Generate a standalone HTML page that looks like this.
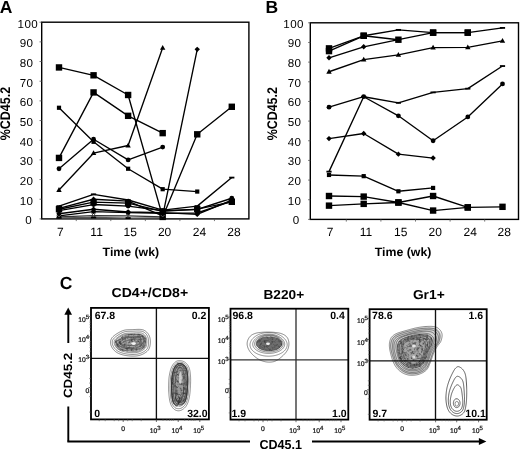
<!DOCTYPE html><html><head><meta charset="utf-8"><style>html,body{margin:0;padding:0;background:#fff;overflow:hidden}svg{display:block;filter:grayscale(1)}</style></head><body><svg width="520" height="449" viewBox="0 0 520 449" text-rendering="geometricPrecision" font-family='"Liberation Sans", sans-serif' fill="#000"><defs><filter id="tex" x="0" y="0" width="1" height="1" color-interpolation-filters="sRGB"><feTurbulence type="fractalNoise" baseFrequency="0.42" numOctaves="2" seed="4" result="n"/><feColorMatrix in="n" type="matrix" values="0 0 0 0 0.25  0 0 0 0 0.25  0 0 0 0 0.25  2.4 0 0 0 -1.0"/></filter></defs><rect width="520" height="449" fill="#fff"/><rect x="41.7" y="22.2" width="207.20" height="196.70" fill="none" stroke="#000" stroke-width="1.4"/><line x1="39.5" y1="218.90" x2="41.7" y2="218.90" stroke="#555" stroke-width="0.8"/><text x="32.05" y="224.30" text-anchor="end" font-size="11.6" letter-spacing="0.4">0</text><line x1="39.5" y1="199.23" x2="41.7" y2="199.23" stroke="#555" stroke-width="0.8"/><text x="33.45" y="204.63" text-anchor="end" font-size="11.6" letter-spacing="0.4">10</text><line x1="39.5" y1="179.56" x2="41.7" y2="179.56" stroke="#555" stroke-width="0.8"/><text x="33.45" y="184.96" text-anchor="end" font-size="11.6" letter-spacing="0.4">20</text><line x1="39.5" y1="159.89" x2="41.7" y2="159.89" stroke="#555" stroke-width="0.8"/><text x="33.45" y="165.29" text-anchor="end" font-size="11.6" letter-spacing="0.4">30</text><line x1="39.5" y1="140.22" x2="41.7" y2="140.22" stroke="#555" stroke-width="0.8"/><text x="33.45" y="145.62" text-anchor="end" font-size="11.6" letter-spacing="0.4">40</text><line x1="39.5" y1="120.55" x2="41.7" y2="120.55" stroke="#555" stroke-width="0.8"/><text x="33.45" y="125.95" text-anchor="end" font-size="11.6" letter-spacing="0.4">50</text><line x1="39.5" y1="100.88" x2="41.7" y2="100.88" stroke="#555" stroke-width="0.8"/><text x="33.45" y="106.28" text-anchor="end" font-size="11.6" letter-spacing="0.4">60</text><line x1="39.5" y1="81.21" x2="41.7" y2="81.21" stroke="#555" stroke-width="0.8"/><text x="33.45" y="86.61" text-anchor="end" font-size="11.6" letter-spacing="0.4">70</text><line x1="39.5" y1="61.54" x2="41.7" y2="61.54" stroke="#555" stroke-width="0.8"/><text x="33.45" y="66.94" text-anchor="end" font-size="11.6" letter-spacing="0.4">80</text><line x1="39.5" y1="41.87" x2="41.7" y2="41.87" stroke="#555" stroke-width="0.8"/><text x="33.45" y="47.27" text-anchor="end" font-size="11.6" letter-spacing="0.4">90</text><line x1="39.5" y1="22.20" x2="41.7" y2="22.20" stroke="#555" stroke-width="0.8"/><text x="38.15" y="27.60" text-anchor="end" font-size="11.6" letter-spacing="0.4">100</text><line x1="76.25" y1="218.9" x2="76.25" y2="221.1" stroke="#555" stroke-width="0.8"/><line x1="110.80" y1="218.9" x2="110.80" y2="221.1" stroke="#555" stroke-width="0.8"/><line x1="145.35" y1="218.9" x2="145.35" y2="221.1" stroke="#555" stroke-width="0.8"/><line x1="179.90" y1="218.9" x2="179.90" y2="221.1" stroke="#555" stroke-width="0.8"/><line x1="214.45" y1="218.9" x2="214.45" y2="221.1" stroke="#555" stroke-width="0.8"/><text x="60.40" y="236.2" text-anchor="middle" font-size="12">7</text><text x="96.60" y="236.2" text-anchor="middle" font-size="12">11</text><text x="130.20" y="236.2" text-anchor="middle" font-size="12">15</text><text x="164.60" y="236.2" text-anchor="middle" font-size="12">20</text><text x="199.50" y="236.2" text-anchor="middle" font-size="12">24</text><text x="233.90" y="236.2" text-anchor="middle" font-size="12">28</text><path d="M59.00 67.44L93.56 75.31L128.12 94.98L162.68 216.93L197.24 134.32L231.80 106.78" fill="none" stroke="#000" stroke-width="1.35" stroke-linejoin="round"/><path d="M59.00 157.92L93.56 92.42L128.12 115.83L162.68 133.14" fill="none" stroke="#000" stroke-width="1.35" stroke-linejoin="round"/><path d="M59.00 107.76L93.56 141.79L128.12 168.74L162.68 189.20L197.24 191.56" fill="none" stroke="#000" stroke-width="1.35" stroke-linejoin="round"/><path d="M59.00 168.74L93.56 139.24L128.12 159.89L162.68 147.10" fill="none" stroke="#000" stroke-width="1.35" stroke-linejoin="round"/><path d="M59.00 189.99L93.56 153.20L128.12 145.53L162.68 47.77" fill="none" stroke="#000" stroke-width="1.35" stroke-linejoin="round"/><path d="M59.00 208.47L93.56 199.23L128.12 201.20L162.68 215.95L197.24 49.34" fill="none" stroke="#000" stroke-width="1.35" stroke-linejoin="round"/><path d="M59.00 206.11L93.56 194.31L128.12 200.02L162.68 210.05L197.24 206.11L231.80 177.59" fill="none" stroke="#000" stroke-width="1.35" stroke-linejoin="round"/><path d="M59.00 209.26L93.56 202.18L128.12 203.16L162.68 211.43L197.24 209.06L231.80 201.79" fill="none" stroke="#000" stroke-width="1.35" stroke-linejoin="round"/><path d="M59.00 210.64L93.56 204.54L128.12 206.11L162.68 210.64L197.24 209.46L231.80 198.25" fill="none" stroke="#000" stroke-width="1.35" stroke-linejoin="round"/><path d="M59.00 213.79L93.56 209.26L128.12 212.02L162.68 212.61L197.24 214.38L231.80 200.02" fill="none" stroke="#000" stroke-width="1.35" stroke-linejoin="round"/><path d="M59.00 215.95L93.56 211.62L128.12 212.61L162.68 213.39L197.24 213.00L231.80 201.20" fill="none" stroke="#000" stroke-width="1.35" stroke-linejoin="round"/><path d="M59.00 216.93L93.56 215.56L128.12 215.95L162.68 216.93" fill="none" stroke="#333" stroke-width="1.35" stroke-linejoin="round"/><path d="M59.00 217.92L93.56 217.52L128.12 218.11L162.68 217.92" fill="none" stroke="#555" stroke-width="1.35" stroke-linejoin="round"/><rect x="55.80" y="64.24" width="6.4" height="6.4"/><rect x="90.36" y="72.11" width="6.4" height="6.4"/><rect x="124.92" y="91.78" width="6.4" height="6.4"/><rect x="159.48" y="213.73" width="6.4" height="6.4"/><rect x="194.04" y="131.12" width="6.4" height="6.4"/><rect x="228.60" y="103.58" width="6.4" height="6.4"/><rect x="55.80" y="154.72" width="6.4" height="6.4"/><rect x="90.36" y="89.22" width="6.4" height="6.4"/><rect x="124.92" y="112.63" width="6.4" height="6.4"/><rect x="159.48" y="129.94" width="6.4" height="6.4"/><rect x="56.90" y="105.66" width="4.2" height="4.2"/><rect x="91.46" y="139.69" width="4.2" height="4.2"/><rect x="126.02" y="166.64" width="4.2" height="4.2"/><rect x="160.58" y="187.10" width="4.2" height="4.2"/><rect x="195.14" y="189.46" width="4.2" height="4.2"/><circle cx="59.00" cy="168.74" r="2.4"/><circle cx="93.56" cy="139.24" r="2.4"/><circle cx="128.12" cy="159.89" r="2.4"/><circle cx="162.68" cy="147.10" r="2.4"/><path d="M59.00 187.11L61.70 191.91L56.30 191.91Z"/><path d="M93.56 150.32L96.26 155.12L90.86 155.12Z"/><path d="M128.12 142.65L130.82 147.45L125.42 147.45Z"/><path d="M162.68 44.89L165.38 49.69L159.98 49.69Z"/><path d="M59.00 205.77L61.70 208.47L59.00 211.17L56.30 208.47Z"/><path d="M93.56 196.53L96.26 199.23L93.56 201.93L90.86 199.23Z"/><path d="M128.12 198.50L130.82 201.20L128.12 203.90L125.42 201.20Z"/><path d="M162.68 213.25L165.38 215.95L162.68 218.65L159.98 215.95Z"/><path d="M197.24 46.64L199.94 49.34L197.24 52.04L194.54 49.34Z"/><rect x="56.40" y="205.21" width="5.2" height="1.8"/><rect x="90.96" y="193.41" width="5.2" height="1.8"/><rect x="125.52" y="199.12" width="5.2" height="1.8"/><rect x="160.08" y="209.15" width="5.2" height="1.8"/><rect x="194.64" y="205.21" width="5.2" height="1.8"/><rect x="229.20" y="176.69" width="5.2" height="1.8"/><rect x="55.80" y="206.06" width="6.4" height="6.4"/><rect x="90.36" y="198.98" width="6.4" height="6.4"/><rect x="124.92" y="199.96" width="6.4" height="6.4"/><rect x="159.48" y="208.23" width="6.4" height="6.4"/><rect x="194.04" y="205.87" width="6.4" height="6.4"/><rect x="228.60" y="198.59" width="6.4" height="6.4"/><circle cx="59.00" cy="210.64" r="2.4"/><circle cx="93.56" cy="204.54" r="2.4"/><circle cx="128.12" cy="206.11" r="2.4"/><circle cx="162.68" cy="210.64" r="2.4"/><circle cx="197.24" cy="209.46" r="2.4"/><circle cx="231.80" cy="198.25" r="2.4"/><path d="M59.00 211.09L61.70 213.79L59.00 216.49L56.30 213.79Z"/><path d="M93.56 206.56L96.26 209.26L93.56 211.96L90.86 209.26Z"/><path d="M128.12 209.32L130.82 212.02L128.12 214.72L125.42 212.02Z"/><path d="M162.68 209.91L165.38 212.61L162.68 215.31L159.98 212.61Z"/><path d="M197.24 211.68L199.94 214.38L197.24 217.08L194.54 214.38Z"/><path d="M231.80 197.32L234.50 200.02L231.80 202.72L229.10 200.02Z"/><circle cx="59.00" cy="215.95" r="2.4"/><circle cx="93.56" cy="211.62" r="2.4"/><circle cx="128.12" cy="212.61" r="2.4"/><circle cx="162.68" cy="213.39" r="2.4"/><circle cx="197.24" cy="213.00" r="2.4"/><circle cx="231.80" cy="201.20" r="2.4"/><path d="M57.00 214.93L61.00 218.93M61.00 214.93L57.00 218.93" stroke="#555" stroke-width="1" fill="none"/><path d="M91.56 213.56L95.56 217.56M95.56 213.56L91.56 217.56" stroke="#555" stroke-width="1" fill="none"/><path d="M126.12 213.95L130.12 217.95M130.12 213.95L126.12 217.95" stroke="#555" stroke-width="1" fill="none"/><path d="M160.68 214.93L164.68 218.93M164.68 214.93L160.68 218.93" stroke="#555" stroke-width="1" fill="none"/><rect x="56.40" y="217.02" width="5.2" height="1.8"/><rect x="90.96" y="216.62" width="5.2" height="1.8"/><rect x="125.52" y="217.21" width="5.2" height="1.8"/><rect x="160.08" y="217.02" width="5.2" height="1.8"/><text x="-0.3" y="12.6" font-size="17.5" font-weight="bold">A</text><text transform="translate(10.2 113.6) rotate(-90)" text-anchor="middle" font-size="14" font-weight="bold" textLength="53.5" lengthAdjust="spacingAndGlyphs">%CD45.2</text><text x="102.6" y="255.8" font-size="12" font-weight="bold" textLength="56.5" lengthAdjust="spacingAndGlyphs">Time (wk)</text><rect x="310.3" y="22.8" width="208.20" height="196.60" fill="none" stroke="#000" stroke-width="1.4"/><line x1="308.1" y1="219.40" x2="310.3" y2="219.40" stroke="#555" stroke-width="0.8"/><text x="299.65" y="224.30" text-anchor="end" font-size="11.6" letter-spacing="0.4">0</text><line x1="308.1" y1="199.74" x2="310.3" y2="199.74" stroke="#555" stroke-width="0.8"/><text x="301.45" y="204.64" text-anchor="end" font-size="11.6" letter-spacing="0.4">10</text><line x1="308.1" y1="180.08" x2="310.3" y2="180.08" stroke="#555" stroke-width="0.8"/><text x="301.45" y="184.98" text-anchor="end" font-size="11.6" letter-spacing="0.4">20</text><line x1="308.1" y1="160.42" x2="310.3" y2="160.42" stroke="#555" stroke-width="0.8"/><text x="301.45" y="165.32" text-anchor="end" font-size="11.6" letter-spacing="0.4">30</text><line x1="308.1" y1="140.76" x2="310.3" y2="140.76" stroke="#555" stroke-width="0.8"/><text x="301.45" y="145.66" text-anchor="end" font-size="11.6" letter-spacing="0.4">40</text><line x1="308.1" y1="121.10" x2="310.3" y2="121.10" stroke="#555" stroke-width="0.8"/><text x="301.45" y="126.00" text-anchor="end" font-size="11.6" letter-spacing="0.4">50</text><line x1="308.1" y1="101.44" x2="310.3" y2="101.44" stroke="#555" stroke-width="0.8"/><text x="301.45" y="106.34" text-anchor="end" font-size="11.6" letter-spacing="0.4">60</text><line x1="308.1" y1="81.78" x2="310.3" y2="81.78" stroke="#555" stroke-width="0.8"/><text x="301.45" y="86.68" text-anchor="end" font-size="11.6" letter-spacing="0.4">70</text><line x1="308.1" y1="62.12" x2="310.3" y2="62.12" stroke="#555" stroke-width="0.8"/><text x="301.45" y="67.02" text-anchor="end" font-size="11.6" letter-spacing="0.4">80</text><line x1="308.1" y1="42.46" x2="310.3" y2="42.46" stroke="#555" stroke-width="0.8"/><text x="301.45" y="47.36" text-anchor="end" font-size="11.6" letter-spacing="0.4">90</text><line x1="308.1" y1="22.80" x2="310.3" y2="22.80" stroke="#555" stroke-width="0.8"/><text x="303.85" y="27.70" text-anchor="end" font-size="11.6" letter-spacing="0.4">100</text><line x1="346.30" y1="219.4" x2="346.30" y2="221.6" stroke="#555" stroke-width="0.8"/><line x1="380.90" y1="219.4" x2="380.90" y2="221.6" stroke="#555" stroke-width="0.8"/><line x1="415.50" y1="219.4" x2="415.50" y2="221.6" stroke="#555" stroke-width="0.8"/><line x1="450.10" y1="219.4" x2="450.10" y2="221.6" stroke="#555" stroke-width="0.8"/><line x1="484.70" y1="219.4" x2="484.70" y2="221.6" stroke="#555" stroke-width="0.8"/><text x="330.20" y="236.2" text-anchor="middle" font-size="12">7</text><text x="366.00" y="236.2" text-anchor="middle" font-size="12">11</text><text x="400.80" y="236.2" text-anchor="middle" font-size="12">15</text><text x="435.30" y="236.2" text-anchor="middle" font-size="12">20</text><text x="470.30" y="236.2" text-anchor="middle" font-size="12">24</text><text x="504.30" y="236.2" text-anchor="middle" font-size="12">28</text><path d="M329.00 48.36L363.70 35.78L398.40 29.88L433.10 32.63L467.80 32.63L502.50 27.91" fill="none" stroke="#000" stroke-width="1.35" stroke-linejoin="round"/><path d="M329.00 51.11L363.70 35.78L398.40 39.71L433.10 32.63L467.80 32.63" fill="none" stroke="#000" stroke-width="1.35" stroke-linejoin="round"/><path d="M329.00 57.79L363.70 46.79L398.40 39.71" fill="none" stroke="#000" stroke-width="1.35" stroke-linejoin="round"/><path d="M329.00 71.75L363.70 59.56L398.40 54.85L433.10 47.57L467.80 47.38L502.50 40.89" fill="none" stroke="#000" stroke-width="1.35" stroke-linejoin="round"/><path d="M329.00 171.63L363.70 96.72L398.40 102.82L433.10 92.40L467.80 88.66L502.50 66.05" fill="none" stroke="#000" stroke-width="1.35" stroke-linejoin="round"/><path d="M329.00 107.14L363.70 96.72L398.40 115.79L433.10 140.76L467.80 116.97L502.50 83.94" fill="none" stroke="#000" stroke-width="1.35" stroke-linejoin="round"/><path d="M329.00 138.60L363.70 133.49L398.40 154.13L433.10 158.06" fill="none" stroke="#000" stroke-width="1.35" stroke-linejoin="round"/><path d="M329.00 174.97L363.70 176.15L398.40 191.29L433.10 187.94" fill="none" stroke="#000" stroke-width="1.35" stroke-linejoin="round"/><path d="M329.00 196.00L363.70 196.59L398.40 202.49L433.10 196.00L467.80 207.41L502.50 206.82" fill="none" stroke="#000" stroke-width="1.35" stroke-linejoin="round"/><path d="M329.00 205.64L363.70 203.87L398.40 202.49L433.10 210.55L467.80 207.41" fill="none" stroke="#000" stroke-width="1.35" stroke-linejoin="round"/><rect x="325.80" y="45.16" width="6.4" height="6.4"/><rect x="360.50" y="32.58" width="6.4" height="6.4"/><rect x="395.80" y="28.98" width="5.2" height="1.8"/><rect x="429.90" y="29.43" width="6.4" height="6.4"/><rect x="464.60" y="29.43" width="6.4" height="6.4"/><rect x="499.90" y="27.01" width="5.2" height="1.8"/><rect x="325.80" y="47.91" width="6.4" height="6.4"/><rect x="360.50" y="32.58" width="6.4" height="6.4"/><rect x="395.20" y="36.51" width="6.4" height="6.4"/><rect x="429.90" y="29.43" width="6.4" height="6.4"/><rect x="464.60" y="29.43" width="6.4" height="6.4"/><path d="M329.00 55.09L331.70 57.79L329.00 60.49L326.30 57.79Z"/><path d="M363.70 44.09L366.40 46.79L363.70 49.49L361.00 46.79Z"/><path d="M398.40 37.01L401.10 39.71L398.40 42.41L395.70 39.71Z"/><path d="M329.00 68.87L331.70 73.67L326.30 73.67Z"/><path d="M363.70 56.68L366.40 61.48L361.00 61.48Z"/><path d="M398.40 51.97L401.10 56.77L395.70 56.77Z"/><path d="M433.10 44.69L435.80 49.49L430.40 49.49Z"/><path d="M467.80 44.49L470.50 49.30L465.10 49.30Z"/><path d="M502.50 38.01L505.20 42.81L499.80 42.81Z"/><rect x="326.40" y="170.73" width="5.2" height="1.8"/><rect x="361.10" y="95.82" width="5.2" height="1.8"/><rect x="395.80" y="101.92" width="5.2" height="1.8"/><rect x="430.50" y="91.50" width="5.2" height="1.8"/><rect x="465.20" y="87.76" width="5.2" height="1.8"/><rect x="499.90" y="65.15" width="5.2" height="1.8"/><circle cx="329.00" cy="107.14" r="2.4"/><circle cx="363.70" cy="96.72" r="2.4"/><circle cx="398.40" cy="115.79" r="2.4"/><circle cx="433.10" cy="140.76" r="2.4"/><circle cx="467.80" cy="116.97" r="2.4"/><circle cx="502.50" cy="83.94" r="2.4"/><path d="M329.00 135.90L331.70 138.60L329.00 141.30L326.30 138.60Z"/><path d="M363.70 130.79L366.40 133.49L363.70 136.19L361.00 133.49Z"/><path d="M398.40 151.43L401.10 154.13L398.40 156.83L395.70 154.13Z"/><path d="M433.10 155.36L435.80 158.06L433.10 160.76L430.40 158.06Z"/><rect x="326.90" y="172.87" width="4.2" height="4.2"/><rect x="361.60" y="174.05" width="4.2" height="4.2"/><rect x="396.30" y="189.19" width="4.2" height="4.2"/><rect x="431.00" y="185.84" width="4.2" height="4.2"/><rect x="325.80" y="192.80" width="6.4" height="6.4"/><rect x="360.50" y="193.39" width="6.4" height="6.4"/><rect x="395.20" y="199.29" width="6.4" height="6.4"/><rect x="429.90" y="192.80" width="6.4" height="6.4"/><rect x="464.60" y="204.21" width="6.4" height="6.4"/><rect x="499.30" y="203.62" width="6.4" height="6.4"/><rect x="325.80" y="202.44" width="6.4" height="6.4"/><rect x="360.50" y="200.67" width="6.4" height="6.4"/><rect x="395.20" y="199.29" width="6.4" height="6.4"/><rect x="429.90" y="207.35" width="6.4" height="6.4"/><rect x="464.60" y="204.21" width="6.4" height="6.4"/><text x="265.6" y="12.6" font-size="17.5" font-weight="bold">B</text><text transform="translate(277.2 113.7) rotate(-90)" text-anchor="middle" font-size="14" font-weight="bold" textLength="53.1" lengthAdjust="spacingAndGlyphs">%CD45.2</text><text x="374.8" y="255.8" font-size="12" font-weight="bold" textLength="56.6" lengthAdjust="spacingAndGlyphs">Time (wk)</text><text x="59.7" y="289.2" font-size="17.5" font-weight="bold">C</text><text x="111.5" y="296.9" font-size="13" font-weight="bold" textLength="76.6" lengthAdjust="spacingAndGlyphs">CD4+/CD8+</text><text x="263.5" y="298.5" font-size="13" font-weight="bold" textLength="40.6" lengthAdjust="spacingAndGlyphs">B220+</text><text x="412.9" y="298.6" font-size="13" font-weight="bold" textLength="31.8" lengthAdjust="spacingAndGlyphs">Gr1+</text><path d="M124.44 335.32L124.90 335.10L125.33 334.89L125.78 334.71L126.25 334.54L126.74 334.39L127.26 334.26L127.81 334.15L128.39 334.06L129.01 333.99L129.66 333.93L130.35 333.88L131.07 333.85L131.82 333.82L132.60 333.79L133.40 333.76L134.20 333.73L135.00 333.71L135.81 333.69L136.60 333.69L137.37 333.70L138.12 333.72L138.83 333.75L139.50 333.80L140.11 333.86L140.65 333.93L141.11 334.01L141.47 334.09L141.75 334.18L142.03 334.27L142.31 334.38L142.60 334.50L142.88 334.64L143.16 334.80L143.45 334.97L143.73 335.17L144.01 335.38L144.29 335.62L144.56 335.89L144.81 336.17L145.06 336.47L145.29 336.79L145.49 337.10L145.64 337.38L145.78 337.70L145.90 338.06L146.01 338.47L146.10 338.90L146.17 339.37L146.22 339.85L146.25 340.35L146.26 340.85L146.25 341.34L146.22 341.83L146.18 342.30L146.13 342.76L146.07 343.20L145.99 343.67L145.92 344.14L145.83 344.58L145.75 345.01L145.65 345.41L145.55 345.77L145.45 346.12L145.33 346.43L145.21 346.71L145.07 346.96L144.93 347.19L144.77 347.39L144.60 347.58L144.39 347.77L144.10 347.99L143.75 348.24L143.34 348.50L142.88 348.76L142.39 349.01L141.86 349.25L141.31 349.48L140.74 349.69L140.15 349.88L139.56 350.06L138.96 350.21L138.37 350.34L137.79 350.46L137.24 350.55L136.67 350.63L136.04 350.70L135.34 350.77L134.59 350.83L133.80 350.89L132.98 350.94L132.14 350.99L131.28 351.03L130.42 351.07L129.57 351.10L128.72 351.12L127.90 351.13L127.11 351.14L126.36 351.14L125.63 351.12L124.91 351.09L124.20 351.03L123.51 350.96L122.83 350.86L122.17 350.73L121.54 350.58L120.93 350.41L120.36 350.21L119.81 349.99L119.31 349.75L118.84 349.49L118.42 349.22L118.04 348.93L117.69 348.63L117.35 348.29L117.01 347.92L116.69 347.52L116.39 347.11L116.10 346.68L115.83 346.24L115.59 345.81L115.38 345.38L115.20 344.96L115.04 344.57L114.93 344.21L114.85 343.89L114.80 343.59L114.76 343.29L114.74 342.97L114.74 342.67L114.76 342.39L114.81 342.13L114.87 341.89L114.95 341.67L115.05 341.46L115.17 341.27L115.30 341.09L115.46 340.91L115.64 340.73L115.85 340.55L116.08 340.37L116.37 340.15L116.76 339.87L117.24 339.53L117.80 339.16L118.42 338.76L119.09 338.34L119.79 337.92L120.51 337.49L121.23 337.07L121.94 336.67L122.64 336.28L123.30 335.93L123.91 335.60Z" fill="#a2a2a2"/><clipPath id="c1"><path d="M124.44 335.32L124.90 335.10L125.33 334.89L125.78 334.71L126.25 334.54L126.74 334.39L127.26 334.26L127.81 334.15L128.39 334.06L129.01 333.99L129.66 333.93L130.35 333.88L131.07 333.85L131.82 333.82L132.60 333.79L133.40 333.76L134.20 333.73L135.00 333.71L135.81 333.69L136.60 333.69L137.37 333.70L138.12 333.72L138.83 333.75L139.50 333.80L140.11 333.86L140.65 333.93L141.11 334.01L141.47 334.09L141.75 334.18L142.03 334.27L142.31 334.38L142.60 334.50L142.88 334.64L143.16 334.80L143.45 334.97L143.73 335.17L144.01 335.38L144.29 335.62L144.56 335.89L144.81 336.17L145.06 336.47L145.29 336.79L145.49 337.10L145.64 337.38L145.78 337.70L145.90 338.06L146.01 338.47L146.10 338.90L146.17 339.37L146.22 339.85L146.25 340.35L146.26 340.85L146.25 341.34L146.22 341.83L146.18 342.30L146.13 342.76L146.07 343.20L145.99 343.67L145.92 344.14L145.83 344.58L145.75 345.01L145.65 345.41L145.55 345.77L145.45 346.12L145.33 346.43L145.21 346.71L145.07 346.96L144.93 347.19L144.77 347.39L144.60 347.58L144.39 347.77L144.10 347.99L143.75 348.24L143.34 348.50L142.88 348.76L142.39 349.01L141.86 349.25L141.31 349.48L140.74 349.69L140.15 349.88L139.56 350.06L138.96 350.21L138.37 350.34L137.79 350.46L137.24 350.55L136.67 350.63L136.04 350.70L135.34 350.77L134.59 350.83L133.80 350.89L132.98 350.94L132.14 350.99L131.28 351.03L130.42 351.07L129.57 351.10L128.72 351.12L127.90 351.13L127.11 351.14L126.36 351.14L125.63 351.12L124.91 351.09L124.20 351.03L123.51 350.96L122.83 350.86L122.17 350.73L121.54 350.58L120.93 350.41L120.36 350.21L119.81 349.99L119.31 349.75L118.84 349.49L118.42 349.22L118.04 348.93L117.69 348.63L117.35 348.29L117.01 347.92L116.69 347.52L116.39 347.11L116.10 346.68L115.83 346.24L115.59 345.81L115.38 345.38L115.20 344.96L115.04 344.57L114.93 344.21L114.85 343.89L114.80 343.59L114.76 343.29L114.74 342.97L114.74 342.67L114.76 342.39L114.81 342.13L114.87 341.89L114.95 341.67L115.05 341.46L115.17 341.27L115.30 341.09L115.46 340.91L115.64 340.73L115.85 340.55L116.08 340.37L116.37 340.15L116.76 339.87L117.24 339.53L117.80 339.16L118.42 338.76L119.09 338.34L119.79 337.92L120.51 337.49L121.23 337.07L121.94 336.67L122.64 336.28L123.30 335.93L123.91 335.60Z"/></clipPath><rect x="114.7" y="333.7" width="31.5" height="17.4" filter="url(#tex)" clip-path="url(#c1)"/><path d="M122.70 330.71L123.41 330.46L124.11 330.25L124.80 330.09L125.49 329.96L126.18 329.86L126.86 329.79L127.54 329.74L128.23 329.71L128.92 329.69L129.61 329.68L130.31 329.67L131.01 329.67L131.72 329.65L132.45 329.63L133.20 329.60L133.97 329.56L134.77 329.51L135.59 329.47L136.41 329.43L137.23 329.40L138.06 329.38L138.87 329.37L139.66 329.39L140.44 329.43L141.18 329.50L141.89 329.61L142.56 329.74L143.18 329.93L143.75 330.14L144.31 330.40L144.83 330.69L145.34 331.00L145.81 331.35L146.26 331.71L146.69 332.11L147.09 332.52L147.47 332.95L147.83 333.39L148.16 333.85L148.47 334.32L148.76 334.80L149.03 335.29L149.27 335.79L149.48 336.33L149.67 336.89L149.84 337.47L149.98 338.07L150.10 338.69L150.19 339.31L150.27 339.94L150.32 340.57L150.36 341.19L150.37 341.81L150.36 342.42L150.34 343.01L150.29 343.58L150.24 344.13L150.17 344.69L150.09 345.25L149.99 345.81L149.88 346.36L149.75 346.91L149.59 347.45L149.40 347.98L149.18 348.50L148.94 349.01L148.65 349.51L148.33 349.98L147.97 350.45L147.56 350.89L147.11 351.32L146.61 351.75L146.07 352.17L145.49 352.58L144.88 352.98L144.23 353.37L143.55 353.75L142.85 354.10L142.13 354.43L141.39 354.74L140.63 355.02L139.86 355.27L139.08 355.48L138.30 355.67L137.49 355.81L136.64 355.93L135.76 356.01L134.84 356.07L133.91 356.10L132.95 356.11L131.99 356.09L131.03 356.05L130.08 356.00L129.13 355.92L128.21 355.83L127.31 355.72L126.45 355.60L125.62 355.47L124.83 355.33L124.04 355.17L123.26 354.99L122.49 354.80L121.74 354.59L121.00 354.36L120.27 354.11L119.57 353.85L118.89 353.56L118.23 353.26L117.60 352.94L117.00 352.60L116.42 352.24L115.88 351.86L115.35 351.45L114.85 351.01L114.36 350.54L113.89 350.04L113.44 349.52L113.02 348.99L112.63 348.44L112.26 347.88L111.93 347.31L111.63 346.75L111.36 346.18L111.14 345.63L110.95 345.08L110.81 344.55L110.70 344.03L110.61 343.50L110.56 342.97L110.54 342.44L110.55 341.91L110.59 341.38L110.68 340.84L110.80 340.32L110.96 339.79L111.17 339.27L111.42 338.75L111.72 338.24L112.06 337.74L112.46 337.24L112.93 336.73L113.48 336.22L114.10 335.69L114.78 335.16L115.51 334.62L116.28 334.10L117.08 333.58L117.90 333.08L118.73 332.60L119.56 332.15L120.38 331.73L121.19 331.34L121.96 331.00Z" fill="none" stroke="#3a3a3a" stroke-width="0.6"/><path d="M123.29 332.27L123.92 332.04L124.53 331.84L125.14 331.69L125.76 331.56L126.38 331.46L127.00 331.38L127.64 331.33L128.29 331.29L128.95 331.27L129.63 331.26L130.32 331.25L131.03 331.25L131.76 331.24L132.51 331.22L133.28 331.19L134.06 331.15L134.86 331.12L135.67 331.08L136.48 331.04L137.29 331.02L138.08 331.01L138.85 331.01L139.60 331.03L140.32 331.07L140.99 331.14L141.60 331.24L142.16 331.36L142.65 331.51L143.11 331.69L143.56 331.90L143.98 332.14L144.39 332.40L144.78 332.69L145.15 333.00L145.50 333.34L145.83 333.69L146.15 334.06L146.44 334.45L146.72 334.85L146.98 335.26L147.22 335.69L147.44 336.10L147.62 336.51L147.79 336.95L147.94 337.43L148.08 337.93L148.20 338.45L148.30 339.00L148.38 339.56L148.45 340.12L148.50 340.69L148.54 341.26L148.56 341.82L148.56 342.37L148.55 342.90L148.52 343.42L148.48 343.94L148.43 344.47L148.37 344.98L148.30 345.49L148.21 345.98L148.11 346.47L147.98 346.93L147.84 347.38L147.67 347.82L147.47 348.24L147.25 348.64L147.00 349.02L146.72 349.38L146.39 349.74L146.01 350.10L145.57 350.48L145.09 350.85L144.56 351.22L144.00 351.59L143.40 351.94L142.78 352.27L142.13 352.60L141.46 352.90L140.77 353.17L140.08 353.43L139.37 353.65L138.66 353.85L137.96 354.01L137.23 354.15L136.45 354.25L135.62 354.34L134.76 354.39L133.87 354.43L132.96 354.44L132.04 354.42L131.11 354.39L130.19 354.34L129.28 354.27L128.39 354.18L127.52 354.08L126.69 353.97L125.90 353.84L125.14 353.70L124.38 353.55L123.64 353.38L122.92 353.19L122.20 352.99L121.51 352.77L120.84 352.53L120.19 352.28L119.57 352.02L118.97 351.74L118.40 351.44L117.86 351.14L117.36 350.82L116.89 350.49L116.44 350.13L116.01 349.75L115.58 349.34L115.16 348.90L114.77 348.44L114.39 347.96L114.04 347.47L113.71 346.98L113.42 346.48L113.15 345.98L112.93 345.50L112.73 345.03L112.58 344.58L112.47 344.15L112.38 343.72L112.32 343.28L112.28 342.85L112.27 342.42L112.29 342.00L112.33 341.58L112.40 341.18L112.50 340.78L112.64 340.38L112.80 339.99L113.00 339.60L113.23 339.20L113.51 338.81L113.83 338.42L114.21 338.01L114.69 337.56L115.24 337.09L115.86 336.59L116.54 336.09L117.26 335.59L118.02 335.09L118.80 334.60L119.58 334.13L120.37 333.69L121.15 333.27L121.90 332.90L122.62 332.56Z" fill="none" stroke="#3a3a3a" stroke-width="0.6"/><path d="M123.91 333.92L124.46 333.73L124.99 333.58L125.52 333.46L126.05 333.37L126.60 333.29L127.17 333.24L127.75 333.20L128.36 333.17L128.99 333.16L129.65 333.15L130.34 333.15L131.06 333.14L131.81 333.12L132.58 333.10L133.37 333.06L134.16 333.02L134.96 332.97L135.76 332.92L136.56 332.88L137.34 332.85L138.10 332.83L138.84 332.83L139.53 332.84L140.18 332.88L140.77 332.94L141.29 333.01L141.72 333.11L142.07 333.22L142.41 333.35L142.75 333.51L143.07 333.69L143.38 333.90L143.68 334.12L143.97 334.37L144.25 334.63L144.52 334.91L144.78 335.21L145.03 335.53L145.26 335.86L145.49 336.20L145.70 336.55L145.89 336.89L146.04 337.21L146.18 337.55L146.32 337.93L146.44 338.35L146.55 338.81L146.64 339.29L146.72 339.78L146.79 340.29L146.83 340.81L146.86 341.32L146.87 341.83L146.86 342.32L146.83 342.80L146.79 343.26L146.74 343.75L146.67 344.24L146.60 344.70L146.51 345.15L146.41 345.58L146.31 345.98L146.19 346.35L146.05 346.70L145.91 347.03L145.76 347.33L145.60 347.61L145.42 347.87L145.22 348.11L144.99 348.36L144.70 348.65L144.34 348.96L143.93 349.29L143.47 349.63L142.98 349.96L142.46 350.29L141.90 350.61L141.32 350.92L140.73 351.21L140.11 351.48L139.49 351.72L138.86 351.94L138.22 352.14L137.60 352.29L136.96 352.42L136.25 352.53L135.49 352.61L134.68 352.67L133.84 352.70L132.97 352.71L132.09 352.70L131.20 352.67L130.31 352.61L129.44 352.54L128.58 352.45L127.75 352.35L126.95 352.23L126.19 352.11L125.47 351.98L124.75 351.83L124.05 351.66L123.37 351.49L122.70 351.30L122.06 351.09L121.43 350.88L120.84 350.65L120.27 350.41L119.73 350.16L119.23 349.90L118.76 349.63L118.33 349.35L117.94 349.07L117.57 348.78L117.20 348.45L116.84 348.09L116.49 347.70L116.16 347.29L115.84 346.87L115.54 346.44L115.27 346.00L115.03 345.57L114.82 345.15L114.65 344.74L114.50 344.36L114.40 344.02L114.32 343.71L114.26 343.38L114.22 343.04L114.19 342.71L114.18 342.40L114.18 342.10L114.20 341.81L114.24 341.53L114.30 341.26L114.37 340.99L114.47 340.72L114.59 340.44L114.74 340.16L114.92 339.86L115.15 339.56L115.44 339.23L115.83 338.84L116.32 338.40L116.88 337.94L117.51 337.47L118.19 336.99L118.91 336.51L119.65 336.05L120.41 335.61L121.17 335.19L121.91 334.81L122.63 334.47L123.30 334.17Z" fill="none" stroke="#3a3a3a" stroke-width="0.6"/><path d="M124.27 334.86L124.77 334.72L125.26 334.61L125.74 334.52L126.23 334.45L126.74 334.40L127.27 334.36L127.82 334.34L128.40 334.33L129.02 334.33L129.67 334.34L130.35 334.35L131.07 334.37L131.84 334.38L132.63 334.39L133.43 334.39L134.24 334.39L135.04 334.39L135.84 334.40L136.63 334.42L137.39 334.45L138.13 334.50L138.82 334.56L139.47 334.65L140.05 334.74L140.54 334.85L140.94 334.97L141.23 335.08L141.42 335.18L141.60 335.29L141.80 335.41L142.00 335.53L142.19 335.66L142.40 335.79L142.61 335.94L142.83 336.10L143.06 336.27L143.29 336.46L143.53 336.67L143.77 336.89L144.00 337.14L144.23 337.40L144.44 337.64L144.60 337.84L144.76 338.08L144.91 338.37L145.05 338.72L145.17 339.10L145.27 339.52L145.35 339.97L145.41 340.43L145.44 340.90L145.45 341.37L145.43 341.83L145.39 342.28L145.34 342.71L145.27 343.13L145.18 343.58L145.09 344.03L144.99 344.45L144.90 344.85L144.80 345.21L144.70 345.54L144.60 345.84L144.51 346.11L144.42 346.36L144.34 346.57L144.26 346.78L144.18 346.97L144.09 347.15L143.97 347.36L143.78 347.63L143.50 347.95L143.17 348.28L142.79 348.63L142.37 348.98L141.90 349.32L141.40 349.66L140.87 349.97L140.32 350.26L139.74 350.53L139.16 350.77L138.56 350.97L137.97 351.14L137.39 351.27L136.79 351.37L136.12 351.44L135.40 351.49L134.62 351.51L133.81 351.51L132.98 351.49L132.13 351.45L131.27 351.38L130.41 351.31L129.56 351.22L128.72 351.11L127.92 351.00L127.15 350.88L126.42 350.75L125.73 350.61L125.05 350.46L124.38 350.30L123.73 350.12L123.10 349.93L122.50 349.72L121.93 349.50L121.39 349.26L120.88 349.01L120.42 348.74L119.99 348.46L119.61 348.18L119.29 347.90L119.01 347.62L118.76 347.33L118.52 347.01L118.28 346.66L118.05 346.30L117.82 345.92L117.61 345.54L117.42 345.16L117.24 344.78L117.07 344.43L116.93 344.09L116.81 343.80L116.70 343.54L116.62 343.34L116.54 343.18L116.45 342.98L116.35 342.76L116.26 342.56L116.16 342.38L116.07 342.20L115.98 342.03L115.89 341.85L115.82 341.67L115.76 341.48L115.72 341.27L115.71 341.04L115.73 340.79L115.81 340.52L115.93 340.23L116.12 339.91L116.45 339.52L116.88 339.09L117.40 338.63L118.00 338.16L118.66 337.69L119.36 337.23L120.09 336.79L120.84 336.38L121.59 335.99L122.32 335.64L123.02 335.33L123.68 335.07Z" fill="none" stroke="#3a3a3a" stroke-width="0.6"/><path d="M125.16 337.23L125.55 337.13L125.90 337.05L126.26 336.98L126.64 336.92L127.04 336.88L127.48 336.83L127.97 336.80L128.49 336.78L129.07 336.76L129.70 336.76L130.38 336.75L131.11 336.75L131.89 336.74L132.71 336.73L133.54 336.70L134.36 336.66L135.17 336.62L135.96 336.58L136.72 336.55L137.46 336.52L138.16 336.49L138.81 336.47L139.40 336.47L139.92 336.46L140.35 336.47L140.68 336.47L140.89 336.46L141.00 336.43L141.13 336.41L141.29 336.41L141.47 336.42L141.66 336.45L141.85 336.50L142.06 336.57L142.27 336.67L142.49 336.80L142.70 336.96L142.91 337.14L143.11 337.35L143.30 337.58L143.47 337.84L143.60 338.06L143.68 338.25L143.74 338.45L143.80 338.71L143.86 339.03L143.89 339.38L143.92 339.76L143.93 340.16L143.92 340.58L143.91 341.01L143.88 341.43L143.84 341.84L143.80 342.24L143.75 342.61L143.70 342.99L143.64 343.41L143.59 343.83L143.54 344.22L143.49 344.58L143.45 344.91L143.41 345.19L143.37 345.45L143.34 345.67L143.31 345.86L143.28 346.02L143.26 346.15L143.23 346.27L143.19 346.38L143.11 346.51L142.93 346.70L142.68 346.94L142.36 347.19L141.98 347.44L141.56 347.70L141.11 347.94L140.62 348.17L140.10 348.37L139.57 348.56L139.03 348.72L138.49 348.86L137.96 348.96L137.43 349.05L136.94 349.10L136.43 349.13L135.86 349.15L135.21 349.17L134.51 349.17L133.77 349.15L132.99 349.13L132.19 349.09L131.38 349.04L130.57 348.98L129.76 348.91L128.97 348.83L128.21 348.75L127.48 348.65L126.80 348.55L126.15 348.44L125.51 348.31L124.89 348.17L124.29 348.03L123.71 347.86L123.16 347.69L122.64 347.51L122.16 347.32L121.70 347.12L121.29 346.92L120.92 346.73L120.59 346.54L120.30 346.36L120.06 346.20L119.83 346.03L119.59 345.85L119.32 345.63L119.05 345.40L118.77 345.15L118.49 344.88L118.21 344.61L117.94 344.35L117.68 344.08L117.45 343.84L117.23 343.61L117.04 343.41L116.88 343.26L116.74 343.13L116.61 342.95L116.48 342.75L116.38 342.55L116.30 342.37L116.24 342.21L116.21 342.05L116.20 341.91L116.21 341.78L116.25 341.65L116.31 341.53L116.41 341.42L116.53 341.30L116.69 341.17L116.87 341.05L117.13 340.91L117.49 340.69L117.96 340.41L118.52 340.10L119.14 339.77L119.81 339.43L120.52 339.09L121.25 338.75L121.99 338.43L122.71 338.12L123.41 337.84L124.07 337.59L124.66 337.38Z" fill="none" stroke="#3a3a3a" stroke-width="0.6"/><path d="M125.51 338.17L125.82 337.99L126.11 337.85L126.42 337.73L126.76 337.64L127.13 337.56L127.54 337.50L128.01 337.46L128.52 337.44L129.08 337.44L129.70 337.44L130.38 337.45L131.12 337.46L131.91 337.47L132.74 337.47L133.58 337.46L134.40 337.43L135.21 337.41L136.00 337.39L136.76 337.37L137.48 337.36L138.17 337.36L138.80 337.38L139.36 337.42L139.84 337.47L140.22 337.53L140.48 337.60L140.59 337.67L140.57 337.71L140.56 337.77L140.58 337.84L140.59 337.93L140.60 338.02L140.61 338.13L140.62 338.24L140.63 338.37L140.64 338.52L140.66 338.67L140.68 338.84L140.71 339.01L140.74 339.19L140.77 339.38L140.78 339.51L140.74 339.54L140.72 339.57L140.74 339.67L140.78 339.83L140.84 340.03L140.92 340.28L141.01 340.56L141.10 340.87L141.20 341.19L141.30 341.52L141.40 341.85L141.49 342.18L141.58 342.49L141.66 342.81L141.73 343.20L141.78 343.60L141.83 343.96L141.86 344.28L141.89 344.55L141.91 344.79L141.91 344.98L141.91 345.12L141.91 345.22L141.91 345.29L141.91 345.32L141.92 345.32L141.92 345.31L141.90 345.32L141.77 345.41L141.56 345.57L141.29 345.75L140.96 345.95L140.60 346.16L140.21 346.37L139.78 346.59L139.34 346.79L138.89 346.99L138.43 347.17L137.97 347.34L137.51 347.49L137.07 347.62L136.65 347.72L136.22 347.81L135.71 347.89L135.12 347.95L134.46 348.00L133.75 348.02L133.00 348.02L132.23 348.00L131.44 347.96L130.65 347.89L129.86 347.80L129.10 347.69L128.36 347.57L127.66 347.43L127.01 347.28L126.40 347.12L125.80 346.95L125.22 346.77L124.67 346.58L124.14 346.39L123.65 346.20L123.18 346.01L122.75 345.82L122.35 345.64L122.00 345.46L121.68 345.30L121.41 345.16L121.17 345.03L120.99 344.93L120.82 344.83L120.64 344.71L120.43 344.55L120.20 344.36L119.98 344.15L119.77 343.92L119.57 343.68L119.39 343.44L119.24 343.21L119.13 342.99L119.05 342.81L119.02 342.67L119.02 342.61L119.05 342.57L119.08 342.50L119.11 342.41L119.16 342.36L119.22 342.34L119.27 342.37L119.33 342.43L119.37 342.52L119.39 342.64L119.39 342.76L119.38 342.88L119.35 342.99L119.32 343.07L119.29 343.11L119.26 343.12L119.29 343.06L119.44 342.86L119.71 342.56L120.09 342.18L120.54 341.76L121.06 341.31L121.62 340.84L122.21 340.38L122.82 339.92L123.43 339.49L124.02 339.08L124.59 338.72L125.10 338.41Z" fill="none" stroke="#3a3a3a" stroke-width="0.6"/><path d="M126.51 340.81L126.70 340.73L126.85 340.66L127.03 340.59L127.23 340.51L127.48 340.43L127.79 340.34L128.17 340.25L128.62 340.16L129.14 340.07L129.74 339.98L130.41 339.89L131.15 339.80L131.96 339.70L132.82 339.60L133.68 339.49L134.51 339.38L135.31 339.28L136.09 339.19L136.83 339.12L137.54 339.08L138.19 339.05L138.79 339.05L139.30 339.08L139.72 339.12L140.03 339.19L140.19 339.25L140.18 339.30L140.04 339.31L139.91 339.32L139.83 339.34L139.75 339.36L139.69 339.37L139.64 339.39L139.61 339.41L139.60 339.44L139.61 339.48L139.64 339.52L139.70 339.59L139.76 339.66L139.85 339.75L139.94 339.86L140.01 339.90L140.03 339.85L140.06 339.82L140.11 339.86L140.19 339.98L140.27 340.16L140.34 340.38L140.41 340.64L140.46 340.93L140.50 341.24L140.52 341.55L140.52 341.86L140.50 342.15L140.46 342.42L140.40 342.70L140.33 343.04L140.24 343.39L140.14 343.69L140.05 343.93L139.95 344.11L139.87 344.23L139.79 344.29L139.74 344.29L139.71 344.23L139.72 344.13L139.76 343.98L139.84 343.81L139.95 343.63L140.05 343.50L140.04 343.49L139.93 343.58L139.76 343.70L139.54 343.86L139.27 344.04L138.97 344.22L138.64 344.41L138.28 344.59L137.92 344.75L137.54 344.90L137.17 345.04L136.80 345.14L136.46 345.23L136.15 345.28L135.83 345.32L135.42 345.36L134.91 345.39L134.33 345.41L133.69 345.41L133.01 345.41L132.30 345.39L131.57 345.37L130.83 345.34L130.09 345.30L129.36 345.26L128.66 345.22L127.99 345.19L127.37 345.16L126.78 345.13L126.20 345.10L125.63 345.07L125.08 345.03L124.55 345.00L124.05 344.95L123.58 344.90L123.13 344.84L122.73 344.78L122.36 344.71L122.03 344.64L121.76 344.56L121.53 344.49L121.37 344.42L121.23 344.34L121.08 344.22L120.92 344.06L120.76 343.86L120.61 343.63L120.48 343.38L120.38 343.13L120.30 342.88L120.25 342.64L120.24 342.43L120.27 342.28L120.33 342.18L120.43 342.17L120.53 342.22L120.62 342.22L120.70 342.21L120.78 342.24L120.85 342.32L120.91 342.45L120.94 342.63L120.95 342.83L120.94 343.06L120.90 343.29L120.83 343.52L120.75 343.74L120.66 343.92L120.58 344.07L120.50 344.19L120.47 344.24L120.59 344.15L120.85 343.95L121.22 343.68L121.68 343.36L122.20 343.03L122.77 342.68L123.37 342.33L123.99 342.00L124.59 341.69L125.17 341.40L125.71 341.16L126.17 340.95Z" fill="none" stroke="#3a3a3a" stroke-width="0.6"/><ellipse cx="133.6" cy="343.6" rx="2.4" ry="1.4" fill="#fff" opacity="0.9"/><path d="M179.50 363.50L179.73 363.51L179.99 363.52L180.27 363.55L180.56 363.60L180.86 363.65L181.17 363.72L181.47 363.80L181.77 363.90L182.07 364.00L182.35 364.12L182.62 364.24L182.87 364.37L183.09 364.51L183.31 364.66L183.54 364.83L183.79 365.03L184.03 365.25L184.27 365.49L184.51 365.73L184.75 365.99L184.97 366.27L185.19 366.56L185.41 366.87L185.61 367.18L185.80 367.51L185.98 367.86L186.15 368.21L186.31 368.58L186.45 368.96L186.59 369.38L186.72 369.82L186.84 370.29L186.95 370.78L187.05 371.31L187.14 371.85L187.23 372.42L187.31 373.00L187.38 373.61L187.44 374.24L187.50 374.88L187.56 375.54L187.61 376.20L187.65 376.87L187.68 377.56L187.71 378.27L187.72 379.00L187.73 379.76L187.73 380.52L187.72 381.30L187.70 382.09L187.68 382.88L187.66 383.68L187.63 384.47L187.59 385.27L187.55 386.05L187.50 386.83L187.46 387.62L187.41 388.41L187.35 389.21L187.29 390.02L187.23 390.82L187.16 391.61L187.09 392.40L187.00 393.18L186.91 393.94L186.81 394.68L186.70 395.40L186.58 396.09L186.44 396.74L186.29 397.37L186.13 397.99L185.96 398.61L185.78 399.20L185.60 399.77L185.40 400.31L185.18 400.83L184.94 401.32L184.69 401.77L184.40 402.18L184.09 402.55L183.75 402.87L183.37 403.13L182.96 403.32L182.52 403.44L182.06 403.52L181.58 403.57L181.10 403.59L180.61 403.59L180.13 403.54L179.66 403.46L179.19 403.33L178.76 403.14L178.35 402.89L177.99 402.56L177.70 402.17L177.50 401.69L177.43 401.15L177.51 400.58L177.70 400.09L177.92 399.74L178.17 399.50L178.43 399.39L178.69 399.40L178.94 399.51L179.16 399.74L179.33 400.07L179.45 400.50L179.51 401.01L179.48 401.60L179.37 402.24L179.16 402.91L178.85 403.53L178.47 403.97L178.04 404.28L177.59 404.50L177.12 404.64L176.65 404.69L176.18 404.66L175.73 404.55L175.30 404.37L174.90 404.13L174.51 403.82L174.16 403.45L173.84 403.04L173.55 402.57L173.28 402.07L173.05 401.52L172.84 400.90L172.66 400.22L172.50 399.49L172.35 398.71L172.23 397.90L172.11 397.06L172.01 396.19L171.92 395.31L171.84 394.42L171.77 393.52L171.70 392.62L171.65 391.73L171.60 390.85L171.56 389.98L171.53 389.09L171.50 388.17L171.49 387.25L171.49 386.31L171.50 385.38L171.51 384.44L171.54 383.51L171.57 382.59L171.62 381.68L171.67 380.80L171.73 379.94L171.80 379.11L171.88 378.31L171.97 377.54L172.07 376.77L172.18 376.02L172.30 375.28L172.43 374.56L172.57 373.85L172.71 373.17L172.87 372.50L173.03 371.86L173.19 371.24L173.37 370.64L173.54 370.08L173.72 369.54L173.91 369.04L174.09 368.58L174.29 368.14L174.49 367.73L174.69 367.33L174.90 366.96L175.12 366.61L175.34 366.28L175.57 365.97L175.79 365.67L176.02 365.39L176.25 365.14L176.48 364.90L176.71 364.67L176.92 364.47L177.12 364.30L177.30 364.16L177.48 364.04L177.65 363.94L177.81 363.85L177.97 363.78L178.14 363.71L178.30 363.66L178.48 363.61L178.66 363.57L178.85 363.54L179.05 363.52L179.27 363.50Z" fill="#9a9a9a"/><clipPath id="clr"><path d="M179.50 363.50L179.73 363.51L179.99 363.52L180.27 363.55L180.56 363.60L180.86 363.65L181.17 363.72L181.47 363.80L181.77 363.90L182.07 364.00L182.35 364.12L182.62 364.24L182.87 364.37L183.09 364.51L183.31 364.66L183.54 364.83L183.79 365.03L184.03 365.25L184.27 365.49L184.51 365.73L184.75 365.99L184.97 366.27L185.19 366.56L185.41 366.87L185.61 367.18L185.80 367.51L185.98 367.86L186.15 368.21L186.31 368.58L186.45 368.96L186.59 369.38L186.72 369.82L186.84 370.29L186.95 370.78L187.05 371.31L187.14 371.85L187.23 372.42L187.31 373.00L187.38 373.61L187.44 374.24L187.50 374.88L187.56 375.54L187.61 376.20L187.65 376.87L187.68 377.56L187.71 378.27L187.72 379.00L187.73 379.76L187.73 380.52L187.72 381.30L187.70 382.09L187.68 382.88L187.66 383.68L187.63 384.47L187.59 385.27L187.55 386.05L187.50 386.83L187.46 387.62L187.41 388.41L187.35 389.21L187.29 390.02L187.23 390.82L187.16 391.61L187.09 392.40L187.00 393.18L186.91 393.94L186.81 394.68L186.70 395.40L186.58 396.09L186.44 396.74L186.29 397.37L186.13 397.99L185.96 398.61L185.78 399.20L185.60 399.77L185.40 400.31L185.18 400.83L184.94 401.32L184.69 401.77L184.40 402.18L184.09 402.55L183.75 402.87L183.37 403.13L182.96 403.32L182.52 403.44L182.06 403.52L181.58 403.57L181.10 403.59L180.61 403.59L180.13 403.54L179.66 403.46L179.19 403.33L178.76 403.14L178.35 402.89L177.99 402.56L177.70 402.17L177.50 401.69L177.43 401.15L177.51 400.58L177.70 400.09L177.92 399.74L178.17 399.50L178.43 399.39L178.69 399.40L178.94 399.51L179.16 399.74L179.33 400.07L179.45 400.50L179.51 401.01L179.48 401.60L179.37 402.24L179.16 402.91L178.85 403.53L178.47 403.97L178.04 404.28L177.59 404.50L177.12 404.64L176.65 404.69L176.18 404.66L175.73 404.55L175.30 404.37L174.90 404.13L174.51 403.82L174.16 403.45L173.84 403.04L173.55 402.57L173.28 402.07L173.05 401.52L172.84 400.90L172.66 400.22L172.50 399.49L172.35 398.71L172.23 397.90L172.11 397.06L172.01 396.19L171.92 395.31L171.84 394.42L171.77 393.52L171.70 392.62L171.65 391.73L171.60 390.85L171.56 389.98L171.53 389.09L171.50 388.17L171.49 387.25L171.49 386.31L171.50 385.38L171.51 384.44L171.54 383.51L171.57 382.59L171.62 381.68L171.67 380.80L171.73 379.94L171.80 379.11L171.88 378.31L171.97 377.54L172.07 376.77L172.18 376.02L172.30 375.28L172.43 374.56L172.57 373.85L172.71 373.17L172.87 372.50L173.03 371.86L173.19 371.24L173.37 370.64L173.54 370.08L173.72 369.54L173.91 369.04L174.09 368.58L174.29 368.14L174.49 367.73L174.69 367.33L174.90 366.96L175.12 366.61L175.34 366.28L175.57 365.97L175.79 365.67L176.02 365.39L176.25 365.14L176.48 364.90L176.71 364.67L176.92 364.47L177.12 364.30L177.30 364.16L177.48 364.04L177.65 363.94L177.81 363.85L177.97 363.78L178.14 363.71L178.30 363.66L178.48 363.61L178.66 363.57L178.85 363.54L179.05 363.52L179.27 363.50Z"/></clipPath><rect x="170" y="362" width="20" height="40" filter="url(#tex)" clip-path="url(#clr)"/><path d="M179.50 360.60L179.87 360.61L180.25 360.63L180.64 360.68L181.04 360.74L181.45 360.81L181.87 360.91L182.28 361.02L182.70 361.15L183.11 361.30L183.51 361.46L183.90 361.64L184.28 361.84L184.65 362.06L185.00 362.30L185.34 362.56L185.67 362.83L186.00 363.12L186.33 363.43L186.64 363.76L186.95 364.11L187.25 364.47L187.54 364.86L187.82 365.26L188.08 365.67L188.34 366.10L188.57 366.55L188.79 367.02L189.00 367.50L189.19 368.00L189.36 368.52L189.52 369.06L189.66 369.62L189.79 370.19L189.90 370.78L190.01 371.39L190.10 372.01L190.18 372.64L190.26 373.29L190.33 373.95L190.39 374.63L190.45 375.31L190.50 376.00L190.54 376.71L190.58 377.44L190.60 378.19L190.62 378.96L190.63 379.74L190.63 380.54L190.62 381.34L190.60 382.15L190.58 382.97L190.56 383.78L190.52 384.60L190.49 385.41L190.44 386.21L190.40 387.00L190.35 387.79L190.30 388.60L190.25 389.41L190.19 390.23L190.13 391.05L190.06 391.87L189.98 392.69L189.90 393.50L189.81 394.29L189.71 395.08L189.60 395.84L189.48 396.59L189.34 397.31L189.20 398.00L189.05 398.67L188.89 399.33L188.72 399.98L188.55 400.61L188.37 401.22L188.18 401.82L187.98 402.41L187.77 402.97L187.54 403.52L187.31 404.06L187.05 404.57L186.79 405.07L186.50 405.54L186.20 406.00L185.88 406.44L185.53 406.87L185.16 407.30L184.78 407.70L184.38 408.09L183.96 408.46L183.54 408.81L183.11 409.14L182.67 409.44L182.23 409.72L181.79 409.96L181.35 410.18L180.92 410.36L180.50 410.50L180.08 410.61L179.64 410.69L179.20 410.75L178.76 410.78L178.31 410.77L177.86 410.74L177.41 410.69L176.96 410.60L176.52 410.49L176.09 410.35L175.67 410.18L175.27 409.98L174.87 409.75L174.50 409.50L174.14 409.22L173.78 408.91L173.43 408.57L173.09 408.20L172.76 407.81L172.44 407.39L172.12 406.94L171.82 406.46L171.53 405.95L171.26 405.42L171.00 404.86L170.75 404.27L170.52 403.65L170.30 403.00L170.10 402.31L169.92 401.58L169.75 400.81L169.60 400.00L169.46 399.16L169.33 398.29L169.22 397.41L169.12 396.50L169.02 395.59L168.94 394.66L168.87 393.74L168.81 392.81L168.75 391.90L168.70 391.00L168.66 390.10L168.63 389.17L168.60 388.23L168.59 387.27L168.59 386.31L168.60 385.34L168.61 384.38L168.64 383.41L168.67 382.46L168.72 381.52L168.78 380.61L168.84 379.71L168.92 378.84L169.00 378.00L169.09 377.18L169.20 376.38L169.32 375.58L169.44 374.80L169.58 374.03L169.73 373.28L169.88 372.54L170.05 371.83L170.22 371.13L170.40 370.46L170.59 369.80L170.79 369.18L170.99 368.57L171.20 368.00L171.42 367.45L171.65 366.93L171.90 366.42L172.15 365.94L172.41 365.48L172.68 365.05L172.96 364.63L173.24 364.24L173.53 363.86L173.82 363.51L174.11 363.18L174.41 362.87L174.70 362.57L175.00 362.30L175.30 362.05L175.60 361.82L175.90 361.61L176.21 361.42L176.51 361.26L176.83 361.11L177.14 360.99L177.46 360.88L177.79 360.79L178.12 360.72L178.46 360.67L178.80 360.63L179.15 360.61Z" fill="none" stroke="#444" stroke-width="0.6"/><path d="M179.50 362.10L179.80 362.11L180.12 362.13L180.45 362.16L180.79 362.22L181.15 362.28L181.50 362.36L181.86 362.46L182.22 362.57L182.57 362.70L182.91 362.83L183.24 362.99L183.55 363.15L183.84 363.33L184.13 363.52L184.41 363.73L184.70 363.97L184.98 364.22L185.26 364.50L185.54 364.78L185.81 365.09L186.07 365.40L186.33 365.74L186.57 366.09L186.80 366.45L187.02 366.83L187.23 367.23L187.43 367.64L187.61 368.06L187.77 368.50L187.93 368.96L188.07 369.45L188.20 369.96L188.32 370.50L188.43 371.05L188.53 371.63L188.62 372.22L188.70 372.83L188.77 373.46L188.84 374.10L188.90 374.76L188.95 375.43L189.00 376.10L189.05 376.79L189.08 377.50L189.10 378.23L189.12 378.98L189.13 379.75L189.13 380.53L189.12 381.32L189.10 382.12L189.08 382.92L189.06 383.73L189.02 384.53L188.99 385.33L188.95 386.13L188.90 386.91L188.86 387.70L188.80 388.50L188.75 389.31L188.69 390.12L188.63 390.93L188.56 391.74L188.49 392.54L188.41 393.33L188.32 394.11L188.22 394.87L188.11 395.61L187.99 396.33L187.87 397.02L187.73 397.68L187.58 398.33L187.43 398.97L187.26 399.59L187.10 400.19L186.92 400.78L186.74 401.35L186.55 401.89L186.35 402.42L186.13 402.92L185.91 403.40L185.67 403.86L185.42 404.29L185.16 404.70L184.88 405.08L184.58 405.45L184.26 405.81L183.92 406.16L183.56 406.50L183.19 406.82L182.81 407.13L182.43 407.41L182.04 407.67L181.65 407.90L181.27 408.10L180.90 408.27L180.55 408.40L180.22 408.49L179.92 408.56L179.62 408.60L179.32 408.64L179.01 408.67L178.70 408.68L178.38 408.68L178.06 408.66L177.73 408.64L177.41 408.60L177.09 408.54L176.78 408.47L176.47 408.39L176.16 408.29L175.86 408.17L175.57 408.03L175.27 407.85L174.96 407.63L174.65 407.38L174.35 407.09L174.05 406.78L173.75 406.43L173.46 406.05L173.18 405.65L172.91 405.21L172.65 404.73L172.40 404.23L172.17 403.70L171.95 403.14L171.75 402.55L171.56 401.92L171.39 401.24L171.23 400.51L171.08 399.74L170.94 398.93L170.82 398.09L170.71 397.23L170.61 396.34L170.52 395.44L170.44 394.54L170.37 393.63L170.30 392.72L170.25 391.81L170.20 390.92L170.16 390.03L170.13 389.13L170.10 388.20L170.09 387.26L170.09 386.31L170.10 385.36L170.11 384.41L170.14 383.46L170.17 382.53L170.22 381.61L170.27 380.70L170.34 379.83L170.41 378.98L170.49 378.16L170.58 377.37L170.69 376.58L170.80 375.81L170.92 375.05L171.05 374.30L171.20 373.58L171.35 372.87L171.50 372.18L171.67 371.51L171.84 370.86L172.02 370.24L172.21 369.64L172.40 369.07L172.60 368.54L172.80 368.03L173.01 367.55L173.24 367.10L173.46 366.66L173.70 366.25L173.94 365.86L174.19 365.48L174.44 365.13L174.70 364.80L174.96 364.49L175.22 364.19L175.48 363.92L175.74 363.66L175.99 363.42L176.24 363.21L176.48 363.03L176.72 362.87L176.95 362.73L177.18 362.60L177.42 362.49L177.66 362.40L177.90 362.32L178.14 362.25L178.40 362.20L178.66 362.15L178.93 362.12L179.21 362.11Z" fill="none" stroke="#3a3a3a" stroke-width="0.6"/><path d="M179.50 363.50L179.73 363.51L179.99 363.52L180.27 363.55L180.56 363.60L180.86 363.65L181.17 363.72L181.47 363.80L181.77 363.90L182.07 364.00L182.35 364.12L182.62 364.24L182.87 364.37L183.09 364.51L183.31 364.66L183.54 364.83L183.79 365.03L184.03 365.25L184.27 365.49L184.51 365.73L184.75 365.99L184.97 366.27L185.19 366.56L185.41 366.87L185.61 367.18L185.80 367.51L185.98 367.86L186.15 368.21L186.31 368.58L186.45 368.96L186.59 369.38L186.72 369.82L186.84 370.29L186.95 370.78L187.05 371.31L187.14 371.85L187.23 372.42L187.31 373.00L187.38 373.61L187.44 374.24L187.50 374.88L187.56 375.54L187.61 376.20L187.65 376.87L187.68 377.56L187.71 378.27L187.72 379.00L187.73 379.76L187.73 380.52L187.72 381.30L187.70 382.09L187.68 382.88L187.66 383.68L187.63 384.47L187.59 385.27L187.55 386.05L187.50 386.83L187.46 387.62L187.41 388.41L187.35 389.21L187.30 390.02L187.23 390.82L187.17 391.62L187.09 392.40L187.01 393.18L186.92 393.94L186.83 394.68L186.72 395.40L186.61 396.09L186.48 396.75L186.35 397.38L186.20 398.01L186.05 398.63L185.89 399.23L185.72 399.81L185.55 400.36L185.37 400.89L185.18 401.40L184.98 401.88L184.77 402.34L184.54 402.76L184.31 403.16L184.05 403.52L183.79 403.84L183.51 404.13L183.22 404.41L182.90 404.67L182.57 404.93L182.22 405.17L181.86 405.40L181.50 405.60L181.14 405.78L180.78 405.93L180.43 406.05L180.10 406.13L179.80 406.16L179.53 406.16L179.32 406.12L179.16 406.04L179.03 405.97L178.89 405.92L178.76 405.89L178.62 405.88L178.47 405.88L178.32 405.89L178.17 405.92L178.01 405.96L177.84 406.01L177.66 406.07L177.47 406.13L177.27 406.20L177.06 406.27L176.83 406.30L176.57 406.27L176.29 406.19L176.00 406.06L175.70 405.89L175.40 405.69L175.11 405.44L174.82 405.15L174.54 404.83L174.27 404.46L174.01 404.06L173.77 403.63L173.54 403.16L173.32 402.65L173.12 402.12L172.94 401.55L172.77 400.92L172.61 400.23L172.46 399.49L172.33 398.71L172.21 397.90L172.10 397.06L172.00 396.19L171.91 395.31L171.83 394.42L171.76 393.52L171.70 392.62L171.65 391.73L171.60 390.85L171.56 389.98L171.53 389.09L171.50 388.17L171.49 387.25L171.49 386.31L171.50 385.38L171.51 384.44L171.54 383.51L171.57 382.59L171.62 381.68L171.67 380.80L171.73 379.94L171.80 379.11L171.88 378.31L171.97 377.54L172.07 376.77L172.18 376.02L172.30 375.28L172.43 374.56L172.57 373.85L172.71 373.17L172.87 372.50L173.03 371.86L173.19 371.24L173.37 370.64L173.54 370.08L173.72 369.54L173.91 369.04L174.09 368.58L174.29 368.14L174.49 367.73L174.69 367.33L174.90 366.96L175.12 366.61L175.34 366.28L175.57 365.97L175.79 365.67L176.02 365.39L176.25 365.14L176.48 364.90L176.71 364.67L176.92 364.47L177.12 364.30L177.30 364.16L177.48 364.04L177.65 363.94L177.81 363.85L177.97 363.78L178.14 363.71L178.30 363.66L178.48 363.61L178.66 363.57L178.85 363.54L179.05 363.52L179.27 363.50Z" fill="none" stroke="#333" stroke-width="0.6"/><path d="M179.50 363.50L179.73 363.51L179.99 363.52L180.27 363.55L180.56 363.60L180.86 363.65L181.17 363.72L181.47 363.80L181.77 363.90L182.07 364.00L182.35 364.12L182.62 364.24L182.87 364.37L183.09 364.51L183.31 364.66L183.54 364.83L183.79 365.03L184.03 365.25L184.27 365.49L184.51 365.73L184.75 365.99L184.97 366.27L185.19 366.56L185.41 366.87L185.61 367.18L185.80 367.51L185.98 367.86L186.15 368.21L186.31 368.58L186.45 368.96L186.59 369.38L186.72 369.82L186.84 370.29L186.95 370.78L187.05 371.31L187.14 371.85L187.23 372.42L187.31 373.00L187.38 373.61L187.44 374.24L187.50 374.88L187.56 375.54L187.61 376.20L187.65 376.87L187.68 377.56L187.71 378.27L187.72 379.00L187.73 379.76L187.73 380.52L187.72 381.30L187.70 382.09L187.68 382.88L187.66 383.68L187.63 384.47L187.59 385.27L187.55 386.05L187.50 386.83L187.46 387.62L187.41 388.41L187.35 389.21L187.30 390.02L187.23 390.82L187.17 391.62L187.09 392.40L187.01 393.18L186.92 393.94L186.82 394.68L186.72 395.40L186.60 396.09L186.47 396.75L186.33 397.38L186.18 398.00L186.02 398.62L185.86 399.22L185.68 399.79L185.50 400.35L185.31 400.87L185.11 401.38L184.89 401.85L184.65 402.29L184.40 402.70L184.13 403.07L183.85 403.40L183.54 403.68L183.21 403.92L182.86 404.13L182.50 404.33L182.12 404.52L181.73 404.69L181.33 404.83L180.93 404.94L180.54 405.03L180.16 405.07L179.79 405.07L179.45 405.03L179.15 404.93L178.91 404.79L178.74 404.59L178.65 404.36L178.62 404.16L178.59 404.02L178.57 403.93L178.56 403.88L178.54 403.89L178.51 403.93L178.47 404.02L178.41 404.15L178.33 404.31L178.23 404.51L178.09 404.74L177.92 404.98L177.71 405.23L177.45 405.45L177.15 405.57L176.83 405.60L176.48 405.58L176.14 405.51L175.79 405.38L175.44 405.20L175.10 404.97L174.78 404.69L174.46 404.36L174.17 403.99L173.89 403.58L173.63 403.12L173.39 402.63L173.17 402.11L172.97 401.54L172.79 400.91L172.62 400.23L172.47 399.49L172.34 398.71L172.22 397.90L172.10 397.06L172.00 396.19L171.92 395.31L171.84 394.42L171.76 393.52L171.70 392.62L171.65 391.73L171.60 390.85L171.56 389.98L171.53 389.09L171.50 388.17L171.49 387.25L171.49 386.31L171.50 385.38L171.51 384.44L171.54 383.51L171.57 382.59L171.62 381.68L171.67 380.80L171.73 379.94L171.80 379.11L171.88 378.31L171.97 377.54L172.07 376.77L172.18 376.02L172.30 375.28L172.43 374.56L172.57 373.85L172.71 373.17L172.87 372.50L173.03 371.86L173.19 371.24L173.37 370.64L173.54 370.08L173.72 369.54L173.91 369.04L174.09 368.58L174.29 368.14L174.49 367.73L174.69 367.33L174.90 366.96L175.12 366.61L175.34 366.28L175.57 365.97L175.79 365.67L176.02 365.39L176.25 365.14L176.48 364.90L176.71 364.67L176.92 364.47L177.12 364.30L177.30 364.16L177.48 364.04L177.65 363.94L177.81 363.85L177.97 363.78L178.14 363.71L178.30 363.66L178.48 363.61L178.66 363.57L178.85 363.54L179.05 363.52L179.27 363.50Z" fill="none" stroke="#333" stroke-width="0.6"/><path d="M179.50 363.50L179.73 363.51L179.99 363.52L180.27 363.55L180.56 363.60L180.86 363.65L181.17 363.72L181.47 363.80L181.77 363.90L182.07 364.00L182.35 364.12L182.62 364.24L182.87 364.37L183.09 364.51L183.31 364.66L183.54 364.83L183.79 365.03L184.03 365.25L184.27 365.49L184.51 365.73L184.75 365.99L184.97 366.27L185.19 366.56L185.41 366.87L185.61 367.18L185.80 367.51L185.98 367.86L186.15 368.21L186.31 368.58L186.45 368.96L186.59 369.38L186.72 369.82L186.84 370.29L186.95 370.78L187.05 371.31L187.14 371.85L187.23 372.42L187.31 373.00L187.38 373.61L187.44 374.24L187.50 374.88L187.56 375.54L187.61 376.20L187.65 376.87L187.68 377.56L187.71 378.27L187.72 379.00L187.73 379.76L187.73 380.52L187.72 381.30L187.70 382.09L187.68 382.88L187.66 383.68L187.63 384.47L187.59 385.27L187.55 386.05L187.50 386.83L187.46 387.62L187.41 388.41L187.35 389.21L187.30 390.02L187.23 390.82L187.16 391.62L187.09 392.40L187.01 393.18L186.92 393.94L186.82 394.68L186.71 395.40L186.59 396.09L186.46 396.74L186.31 397.37L186.16 398.00L186.00 398.62L185.83 399.21L185.65 399.79L185.47 400.34L185.26 400.86L185.05 401.36L184.82 401.82L184.57 402.25L184.29 402.65L184.00 403.00L183.68 403.30L183.33 403.55L182.96 403.75L182.57 403.91L182.17 404.06L181.75 404.19L181.33 404.29L180.90 404.37L180.48 404.42L180.06 404.42L179.66 404.38L179.28 404.30L178.93 404.15L178.64 403.95L178.41 403.69L178.27 403.36L178.25 403.01L178.29 402.71L178.35 402.50L178.43 402.35L178.51 402.29L178.59 402.29L178.66 402.36L178.71 402.50L178.74 402.70L178.73 402.96L178.68 403.27L178.59 403.62L178.43 404.01L178.22 404.41L177.95 404.77L177.62 405.00L177.26 405.13L176.88 405.20L176.49 405.20L176.09 405.13L175.71 405.01L175.33 404.82L174.96 404.58L174.62 404.28L174.29 403.93L173.99 403.53L173.70 403.09L173.45 402.61L173.21 402.09L173.00 401.53L172.81 400.91L172.64 400.23L172.48 399.49L172.34 398.71L172.22 397.90L172.11 397.06L172.01 396.19L171.92 395.31L171.84 394.42L171.76 393.52L171.70 392.62L171.65 391.73L171.60 390.85L171.56 389.98L171.53 389.09L171.50 388.17L171.49 387.25L171.49 386.31L171.50 385.38L171.51 384.44L171.54 383.51L171.57 382.59L171.62 381.68L171.67 380.80L171.73 379.94L171.80 379.11L171.88 378.31L171.97 377.54L172.07 376.77L172.18 376.02L172.30 375.28L172.43 374.56L172.57 373.85L172.71 373.17L172.87 372.50L173.03 371.86L173.19 371.24L173.37 370.64L173.54 370.08L173.72 369.54L173.91 369.04L174.09 368.58L174.29 368.14L174.49 367.73L174.69 367.33L174.90 366.96L175.12 366.61L175.34 366.28L175.57 365.97L175.79 365.67L176.02 365.39L176.25 365.14L176.48 364.90L176.71 364.67L176.92 364.47L177.12 364.30L177.30 364.16L177.48 364.04L177.65 363.94L177.81 363.85L177.97 363.78L178.14 363.71L178.30 363.66L178.48 363.61L178.66 363.57L178.85 363.54L179.05 363.52L179.27 363.50Z" fill="none" stroke="#333" stroke-width="0.6"/><path d="M179.50 363.50L179.73 363.51L179.99 363.52L180.27 363.55L180.56 363.60L180.86 363.65L181.17 363.72L181.47 363.80L181.77 363.90L182.07 364.00L182.35 364.12L182.62 364.24L182.87 364.37L183.09 364.51L183.31 364.66L183.54 364.83L183.79 365.03L184.03 365.25L184.27 365.49L184.51 365.73L184.75 365.99L184.97 366.27L185.19 366.56L185.41 366.87L185.61 367.18L185.80 367.51L185.98 367.86L186.15 368.21L186.31 368.58L186.45 368.96L186.59 369.38L186.72 369.82L186.84 370.29L186.95 370.78L187.05 371.31L187.14 371.85L187.23 372.42L187.31 373.00L187.38 373.61L187.44 374.24L187.50 374.88L187.56 375.54L187.61 376.20L187.65 376.87L187.68 377.56L187.71 378.27L187.72 379.00L187.73 379.76L187.73 380.52L187.72 381.30L187.70 382.09L187.68 382.88L187.66 383.68L187.63 384.47L187.59 385.27L187.55 386.05L187.50 386.83L187.46 387.62L187.41 388.41L187.35 389.21L187.29 390.02L187.23 390.82L187.16 391.61L187.09 392.40L187.01 393.18L186.92 393.94L186.82 394.68L186.71 395.40L186.58 396.09L186.45 396.74L186.30 397.37L186.14 397.99L185.98 398.61L185.81 399.21L185.63 399.78L185.43 400.33L185.22 400.85L185.00 401.34L184.75 401.80L184.49 402.22L184.20 402.60L183.88 402.94L183.53 403.22L183.15 403.44L182.75 403.60L182.32 403.72L181.89 403.82L181.44 403.90L180.98 403.95L180.53 403.97L180.08 403.95L179.64 403.89L179.22 403.78L178.83 403.62L178.48 403.39L178.18 403.09L177.97 402.72L177.87 402.29L177.89 401.84L178.00 401.45L178.14 401.16L178.30 400.98L178.47 400.89L178.64 400.89L178.80 400.99L178.93 401.17L179.03 401.43L179.08 401.77L179.08 402.18L179.02 402.65L178.89 403.16L178.68 403.69L178.38 404.17L178.03 404.50L177.64 404.72L177.22 404.86L176.79 404.93L176.36 404.92L175.94 404.84L175.52 404.69L175.13 404.48L174.75 404.20L174.40 403.88L174.07 403.49L173.77 403.07L173.49 402.59L173.24 402.08L173.02 401.53L172.82 400.91L172.65 400.22L172.49 399.49L172.35 398.71L172.22 397.90L172.11 397.06L172.01 396.19L171.92 395.31L171.84 394.42L171.77 393.52L171.70 392.62L171.65 391.73L171.60 390.85L171.56 389.98L171.53 389.09L171.50 388.17L171.49 387.25L171.49 386.31L171.50 385.38L171.51 384.44L171.54 383.51L171.57 382.59L171.62 381.68L171.67 380.80L171.73 379.94L171.80 379.11L171.88 378.31L171.97 377.54L172.07 376.77L172.18 376.02L172.30 375.28L172.43 374.56L172.57 373.85L172.71 373.17L172.87 372.50L173.03 371.86L173.19 371.24L173.37 370.64L173.54 370.08L173.72 369.54L173.91 369.04L174.09 368.58L174.29 368.14L174.49 367.73L174.69 367.33L174.90 366.96L175.12 366.61L175.34 366.28L175.57 365.97L175.79 365.67L176.02 365.39L176.25 365.14L176.48 364.90L176.71 364.67L176.92 364.47L177.12 364.30L177.30 364.16L177.48 364.04L177.65 363.94L177.81 363.85L177.97 363.78L178.14 363.71L178.30 363.66L178.48 363.61L178.66 363.57L178.85 363.54L179.05 363.52L179.27 363.50Z" fill="none" stroke="#333" stroke-width="0.6"/><path d="M179.49 365.10L179.66 365.10L179.85 365.12L180.07 365.14L180.30 365.17L180.54 365.22L180.78 365.27L181.03 365.34L181.26 365.41L181.49 365.50L181.71 365.58L181.91 365.68L182.08 365.77L182.23 365.86L182.38 365.96L182.55 366.09L182.75 366.25L182.95 366.43L183.14 366.62L183.34 366.82L183.53 367.03L183.72 367.26L183.90 367.50L184.07 367.75L184.24 368.02L184.40 368.29L184.55 368.57L184.69 368.87L184.82 369.17L184.94 369.50L185.06 369.85L185.17 370.24L185.28 370.66L185.38 371.11L185.48 371.60L185.56 372.11L185.65 372.64L185.72 373.20L185.79 373.79L185.85 374.39L185.91 375.02L185.96 375.66L186.01 376.31L186.05 376.96L186.08 377.62L186.11 378.31L186.12 379.03L186.13 379.76L186.13 380.51L186.12 381.28L186.10 382.05L186.08 382.84L186.06 383.62L186.03 384.41L185.99 385.19L185.95 385.97L185.91 386.74L185.86 387.52L185.81 388.31L185.76 389.10L185.70 389.90L185.64 390.69L185.57 391.47L185.49 392.25L185.41 393.01L185.32 393.75L185.23 394.47L185.12 395.16L185.00 395.82L184.87 396.43L184.72 397.03L184.57 397.63L184.41 398.22L184.24 398.79L184.06 399.33L183.87 399.85L183.66 400.33L183.44 400.78L183.20 401.19L182.93 401.55L182.64 401.87L182.33 402.14L181.98 402.34L181.61 402.47L181.21 402.53L180.79 402.54L180.36 402.54L179.92 402.52L179.48 402.46L179.04 402.37L178.61 402.25L178.20 402.07L177.82 401.84L177.47 401.55L177.18 401.19L176.96 400.75L176.84 400.23L176.86 399.65L177.05 399.04L177.34 398.53L177.67 398.16L178.02 397.91L178.39 397.79L178.75 397.80L179.09 397.92L179.41 398.16L179.68 398.51L179.90 398.96L180.06 399.51L180.13 400.14L180.12 400.83L180.01 401.56L179.79 402.23L179.48 402.74L179.12 403.10L178.73 403.38L178.32 403.58L177.90 403.69L177.48 403.72L177.07 403.67L176.67 403.55L176.30 403.36L175.95 403.11L175.63 402.81L175.33 402.45L175.06 402.04L174.81 401.60L174.59 401.11L174.40 400.54L174.23 399.90L174.07 399.21L173.94 398.47L173.81 397.68L173.70 396.87L173.60 396.02L173.51 395.16L173.43 394.29L173.36 393.40L173.30 392.52L173.24 391.64L173.20 390.77L173.16 389.91L173.12 389.04L173.10 388.14L173.09 387.24L173.09 386.32L173.10 385.40L173.11 384.48L173.14 383.56L173.17 382.66L173.21 381.77L173.27 380.90L173.33 380.06L173.40 379.26L173.47 378.48L173.56 377.73L173.66 376.99L173.76 376.27L173.88 375.55L174.00 374.85L174.14 374.17L174.28 373.51L174.42 372.87L174.58 372.26L174.73 371.67L174.90 371.10L175.06 370.57L175.23 370.07L175.40 369.61L175.57 369.20L175.74 368.81L175.91 368.45L176.10 368.10L176.28 367.78L176.47 367.47L176.66 367.19L176.85 366.92L177.05 366.67L177.24 366.43L177.43 366.22L177.62 366.01L177.81 365.83L177.98 365.67L178.13 365.55L178.24 365.46L178.35 365.39L178.44 365.33L178.53 365.28L178.61 365.25L178.68 365.22L178.77 365.19L178.85 365.16L178.95 365.14L179.06 365.13L179.19 365.11L179.33 365.10Z" fill="none" stroke="#2a2a2a" stroke-width="0.6"/><path d="M179.49 367.10L179.57 367.10L179.68 367.11L179.81 367.12L179.97 367.15L180.13 367.18L180.30 367.22L180.47 367.26L180.63 367.31L180.78 367.36L180.91 367.42L181.02 367.47L181.10 367.51L181.16 367.54L181.21 367.58L181.31 367.66L181.45 367.77L181.59 367.89L181.73 368.03L181.87 368.18L182.01 368.33L182.15 368.50L182.28 368.68L182.41 368.86L182.53 369.06L182.65 369.26L182.77 369.47L182.87 369.69L182.97 369.92L183.06 370.16L183.15 370.44L183.24 370.76L183.34 371.12L183.42 371.52L183.51 371.96L183.59 372.42L183.66 372.92L183.74 373.45L183.80 374.01L183.86 374.59L183.92 375.19L183.97 375.82L184.02 376.45L184.05 377.07L184.08 377.70L184.11 378.37L184.12 379.06L184.13 379.77L184.13 380.50L184.12 381.25L184.11 382.01L184.09 382.78L184.06 383.55L184.03 384.32L183.99 385.09L183.95 385.86L183.91 386.62L183.86 387.39L183.81 388.18L183.76 388.97L183.70 389.75L183.64 390.53L183.58 391.30L183.50 392.05L183.42 392.79L183.34 393.51L183.24 394.20L183.14 394.85L183.02 395.47L182.90 396.05L182.75 396.60L182.60 397.17L182.45 397.74L182.28 398.27L182.10 398.78L181.92 399.25L181.72 399.69L181.50 400.08L181.27 400.43L181.01 400.73L180.73 400.98L180.42 401.15L180.09 401.26L179.72 401.29L179.34 401.23L178.93 401.12L178.52 401.00L178.10 400.86L177.68 400.69L177.27 400.48L176.88 400.24L176.51 399.94L176.18 399.58L175.89 399.15L175.67 398.64L175.55 398.06L175.55 397.38L175.72 396.63L176.10 395.87L176.60 395.22L177.13 394.75L177.70 394.44L178.29 394.29L178.87 394.30L179.43 394.46L179.95 394.76L180.43 395.20L180.84 395.77L181.17 396.47L181.41 397.26L181.54 398.15L181.56 399.09L181.44 399.98L181.20 400.67L180.88 401.19L180.53 401.62L180.14 401.96L179.74 402.20L179.34 402.36L178.95 402.43L178.56 402.42L178.20 402.33L177.86 402.18L177.55 401.96L177.26 401.68L176.99 401.35L176.76 400.99L176.55 400.58L176.36 400.08L176.20 399.50L176.05 398.86L175.92 398.16L175.80 397.41L175.69 396.63L175.59 395.81L175.50 394.97L175.43 394.12L175.36 393.26L175.29 392.39L175.24 391.52L175.19 390.67L175.15 389.83L175.12 388.98L175.10 388.11L175.09 387.22L175.09 386.32L175.10 385.42L175.11 384.52L175.14 383.63L175.17 382.74L175.21 381.88L175.26 381.04L175.32 380.22L175.39 379.44L175.46 378.70L175.55 377.98L175.64 377.27L175.74 376.57L175.85 375.89L175.97 375.22L176.10 374.57L176.23 373.94L176.37 373.34L176.51 372.76L176.66 372.20L176.81 371.68L176.97 371.19L177.12 370.74L177.27 370.33L177.41 369.97L177.55 369.65L177.70 369.35L177.85 369.06L178.00 368.80L178.15 368.55L178.31 368.32L178.46 368.11L178.61 367.91L178.76 367.73L178.91 367.57L179.05 367.41L179.19 367.27L179.31 367.17L179.38 367.10L179.42 367.08L179.43 367.07L179.43 367.07L179.42 367.07L179.40 367.08L179.37 367.09L179.34 367.10L179.33 367.11L179.32 367.11L179.33 367.11L179.36 367.10L179.42 367.10Z" fill="none" stroke="#2a2a2a" stroke-width="0.6"/><ellipse cx="180.3" cy="378" rx="1.5" ry="6" fill="#e6e6e6" opacity="0.75"/><line x1="156.4" y1="307.9" x2="156.4" y2="419.4" stroke="#111" stroke-width="1.35"/><line x1="91.0" y1="358.3" x2="208.9" y2="358.3" stroke="#111" stroke-width="1.35"/><rect x="91.0" y="307.9" width="117.90" height="111.50" fill="none" stroke="#000" stroke-width="1.8"/><text x="94.7" y="318.6" text-anchor="start" font-size="10.5" font-weight="bold">67.8</text><text x="206.4" y="318.7" text-anchor="end" font-size="10.5" font-weight="bold">0.2</text><text x="94.2" y="416.7" text-anchor="start" font-size="10.5" font-weight="bold">0</text><text x="207.6" y="416.6" text-anchor="end" font-size="10.5" font-weight="bold">32.0</text><line x1="88.4" y1="316.6" x2="91.0" y2="316.6" stroke="#333" stroke-width="0.7"/><text x="89.2" y="321.6" text-anchor="end" font-size="6.8" fill="#111" stroke="#111" stroke-width="0.22">10<tspan dy="-3" font-size="6">5</tspan></text><line x1="88.4" y1="336.9" x2="91.0" y2="336.9" stroke="#333" stroke-width="0.7"/><text x="89.2" y="341.9" text-anchor="end" font-size="6.8" fill="#111" stroke="#111" stroke-width="0.22">10<tspan dy="-3" font-size="6">4</tspan></text><line x1="88.4" y1="357.4" x2="91.0" y2="357.4" stroke="#333" stroke-width="0.7"/><text x="89.2" y="362.4" text-anchor="end" font-size="6.8" fill="#111" stroke="#111" stroke-width="0.22">10<tspan dy="-3" font-size="6">3</tspan></text><line x1="88.4" y1="387.6" x2="91.0" y2="387.6" stroke="#333" stroke-width="0.7"/><text x="89.2" y="392.6" text-anchor="end" font-size="6.8" fill="#111" stroke="#111" stroke-width="0.22">0</text><line x1="89.4" y1="330.8" x2="91.0" y2="330.8" stroke="#666" stroke-width="0.55"/><line x1="89.4" y1="327.2" x2="91.0" y2="327.2" stroke="#666" stroke-width="0.55"/><line x1="89.4" y1="324.7" x2="91.0" y2="324.7" stroke="#666" stroke-width="0.55"/><line x1="89.4" y1="322.7" x2="91.0" y2="322.7" stroke="#666" stroke-width="0.55"/><line x1="89.4" y1="321.1" x2="91.0" y2="321.1" stroke="#666" stroke-width="0.55"/><line x1="89.4" y1="351.2" x2="91.0" y2="351.2" stroke="#666" stroke-width="0.55"/><line x1="89.4" y1="347.6" x2="91.0" y2="347.6" stroke="#666" stroke-width="0.55"/><line x1="89.4" y1="345.1" x2="91.0" y2="345.1" stroke="#666" stroke-width="0.55"/><line x1="89.4" y1="343.1" x2="91.0" y2="343.1" stroke="#666" stroke-width="0.55"/><line x1="89.4" y1="341.5" x2="91.0" y2="341.5" stroke="#666" stroke-width="0.55"/><line x1="89.2" y1="378.6" x2="91.0" y2="378.6" stroke="#555" stroke-width="0.6"/><line x1="89.2" y1="383.1" x2="91.0" y2="383.1" stroke="#555" stroke-width="0.6"/><line x1="89.2" y1="392.1" x2="91.0" y2="392.1" stroke="#555" stroke-width="0.6"/><line x1="89.2" y1="396.6" x2="91.0" y2="396.6" stroke="#555" stroke-width="0.6"/><line x1="89.2" y1="412.1" x2="91.0" y2="412.1" stroke="#555" stroke-width="0.6"/><line x1="123.2" y1="419.4" x2="123.2" y2="422.0" stroke="#333" stroke-width="0.7"/><text x="123.2" y="430.59999999999997" text-anchor="middle" font-size="6.8" fill="#111" stroke="#111" stroke-width="0.22">0</text><line x1="156.4" y1="419.4" x2="156.4" y2="422.0" stroke="#333" stroke-width="0.7"/><text x="155.20000000000002" y="433.0" text-anchor="middle" font-size="6.8" fill="#111" stroke="#111" stroke-width="0.22">10<tspan dy="-3" font-size="6">3</tspan></text><line x1="178.2" y1="419.4" x2="178.2" y2="422.0" stroke="#333" stroke-width="0.7"/><text x="177.0" y="433.0" text-anchor="middle" font-size="6.8" fill="#111" stroke="#111" stroke-width="0.22">10<tspan dy="-3" font-size="6">4</tspan></text><line x1="199.8" y1="419.4" x2="199.8" y2="422.0" stroke="#333" stroke-width="0.7"/><text x="198.60000000000002" y="433.0" text-anchor="middle" font-size="6.8" fill="#111" stroke="#111" stroke-width="0.22">10<tspan dy="-3" font-size="6">5</tspan></text><line x1="163.0" y1="419.4" x2="163.0" y2="421.0" stroke="#666" stroke-width="0.55"/><line x1="166.8" y1="419.4" x2="166.8" y2="421.0" stroke="#666" stroke-width="0.55"/><line x1="169.5" y1="419.4" x2="169.5" y2="421.0" stroke="#666" stroke-width="0.55"/><line x1="171.6" y1="419.4" x2="171.6" y2="421.0" stroke="#666" stroke-width="0.55"/><line x1="173.4" y1="419.4" x2="173.4" y2="421.0" stroke="#666" stroke-width="0.55"/><line x1="184.7" y1="419.4" x2="184.7" y2="421.0" stroke="#666" stroke-width="0.55"/><line x1="188.5" y1="419.4" x2="188.5" y2="421.0" stroke="#666" stroke-width="0.55"/><line x1="191.2" y1="419.4" x2="191.2" y2="421.0" stroke="#666" stroke-width="0.55"/><line x1="193.3" y1="419.4" x2="193.3" y2="421.0" stroke="#666" stroke-width="0.55"/><line x1="195.0" y1="419.4" x2="195.0" y2="421.0" stroke="#666" stroke-width="0.55"/><line x1="99.2" y1="419.4" x2="99.2" y2="421.2" stroke="#555" stroke-width="0.6"/><line x1="105.2" y1="419.4" x2="105.2" y2="421.2" stroke="#555" stroke-width="0.6"/><line x1="114.2" y1="419.4" x2="114.2" y2="421.2" stroke="#555" stroke-width="0.6"/><line x1="118.7" y1="419.4" x2="118.7" y2="421.2" stroke="#555" stroke-width="0.6"/><line x1="127.7" y1="419.4" x2="127.7" y2="421.2" stroke="#555" stroke-width="0.6"/><line x1="132.2" y1="419.4" x2="132.2" y2="421.2" stroke="#555" stroke-width="0.6"/><line x1="141.2" y1="419.4" x2="141.2" y2="421.2" stroke="#555" stroke-width="0.6"/><path d="M262.00 332.30L262.62 332.26L263.28 332.22L263.96 332.18L264.67 332.15L265.39 332.13L266.13 332.11L266.88 332.09L267.63 332.09L268.38 332.09L269.13 332.09L269.87 332.11L270.60 332.13L271.31 332.16L272.00 332.20L272.68 332.24L273.37 332.29L274.05 332.35L274.74 332.41L275.42 332.47L276.10 332.54L276.76 332.62L277.42 332.72L278.06 332.82L278.69 332.93L279.30 333.05L279.89 333.19L280.46 333.34L281.00 333.50L281.52 333.68L282.03 333.86L282.52 334.06L283.00 334.27L283.46 334.49L283.90 334.71L284.33 334.96L284.74 335.21L285.13 335.48L285.51 335.75L285.86 336.04L286.19 336.35L286.51 336.67L286.80 337.00L287.07 337.35L287.32 337.72L287.56 338.10L287.77 338.50L287.97 338.92L288.14 339.34L288.30 339.78L288.44 340.23L288.56 340.68L288.66 341.14L288.75 341.60L288.82 342.07L288.87 342.53L288.90 343.00L288.92 343.47L288.92 343.95L288.91 344.44L288.87 344.94L288.83 345.45L288.76 345.96L288.67 346.47L288.57 346.98L288.45 347.50L288.30 348.01L288.13 348.52L287.95 349.02L287.73 349.51L287.50 350.00L287.24 350.48L286.94 350.97L286.62 351.46L286.27 351.95L285.90 352.43L285.51 352.92L285.10 353.39L284.68 353.87L284.24 354.33L283.80 354.79L283.35 355.24L282.90 355.67L282.45 356.09L282.00 356.50L281.55 356.90L281.09 357.30L280.62 357.70L280.14 358.09L279.65 358.47L279.16 358.84L278.66 359.21L278.15 359.55L277.64 359.88L277.12 360.19L276.59 360.48L276.07 360.75L275.53 360.99L275.00 361.20L274.46 361.39L273.91 361.55L273.35 361.69L272.79 361.81L272.22 361.91L271.64 361.99L271.06 362.05L270.48 362.09L269.90 362.12L269.31 362.13L268.73 362.12L268.15 362.09L267.57 362.05L267.00 362.00L266.43 361.93L265.85 361.84L265.27 361.74L264.69 361.61L264.10 361.47L263.52 361.32L262.94 361.14L262.36 360.95L261.78 360.75L261.21 360.53L260.65 360.29L260.09 360.04L259.54 359.78L259.00 359.50L258.46 359.20L257.92 358.88L257.38 358.53L256.84 358.16L256.30 357.78L255.77 357.38L255.25 356.97L254.74 356.55L254.24 356.12L253.75 355.70L253.28 355.27L252.83 354.84L252.41 354.42L252.00 354.00L251.61 353.59L251.24 353.17L250.88 352.75L250.54 352.32L250.21 351.89L249.90 351.46L249.61 351.03L249.33 350.60L249.06 350.16L248.81 349.73L248.58 349.29L248.37 348.86L248.18 348.43L248.00 348.00L247.84 347.57L247.70 347.14L247.57 346.71L247.46 346.27L247.37 345.84L247.29 345.40L247.23 344.97L247.19 344.54L247.16 344.11L247.16 343.68L247.17 343.25L247.19 342.83L247.24 342.41L247.30 342.00L247.38 341.59L247.49 341.17L247.61 340.74L247.76 340.32L247.92 339.90L248.10 339.48L248.29 339.06L248.50 338.66L248.73 338.26L248.96 337.87L249.21 337.50L249.46 337.15L249.73 336.81L250.00 336.50L250.28 336.20L250.58 335.92L250.88 335.66L251.20 335.41L251.53 335.17L251.88 334.94L252.23 334.73L252.60 334.53L252.97 334.34L253.36 334.15L253.75 333.98L254.16 333.81L254.58 333.65L255.00 333.50L255.43 333.36L255.87 333.22L256.31 333.10L256.77 332.99L257.23 332.89L257.70 332.80L258.19 332.72L258.69 332.64L259.20 332.57L259.72 332.51L260.27 332.45L260.83 332.40L261.40 332.35Z" fill="none" stroke="#444" stroke-width="0.65"/><path d="M282.00 343.60L281.99 343.82L281.97 344.05L281.94 344.28L281.89 344.51L281.83 344.74L281.75 344.97L281.66 345.20L281.57 345.43L281.45 345.65L281.33 345.88L281.19 346.10L281.05 346.31L280.89 346.52L280.72 346.72L280.54 346.92L280.35 347.12L280.14 347.32L279.91 347.52L279.68 347.71L279.43 347.90L279.18 348.08L278.91 348.27L278.63 348.44L278.35 348.61L278.06 348.78L277.76 348.94L277.45 349.09L277.14 349.23L276.82 349.37L276.49 349.50L276.15 349.63L275.80 349.75L275.44 349.86L275.07 349.98L274.69 350.08L274.31 350.18L273.93 350.27L273.54 350.36L273.15 350.43L272.75 350.50L272.36 350.57L271.97 350.62L271.58 350.67L271.18 350.70L270.77 350.74L270.36 350.76L269.94 350.78L269.52 350.79L269.10 350.79L268.68 350.79L268.26 350.78L267.84 350.76L267.43 350.74L267.02 350.70L266.62 350.67L266.23 350.62L265.84 350.57L265.45 350.50L265.05 350.43L264.66 350.36L264.27 350.27L263.89 350.18L263.51 350.08L263.13 349.98L262.76 349.86L262.40 349.75L262.05 349.63L261.71 349.50L261.38 349.37L261.06 349.23L260.75 349.09L260.44 348.94L260.14 348.78L259.85 348.61L259.57 348.44L259.29 348.27L259.02 348.08L258.77 347.90L258.52 347.71L258.29 347.52L258.06 347.32L257.85 347.12L257.66 346.92L257.48 346.72L257.31 346.52L257.15 346.31L257.01 346.10L256.87 345.88L256.75 345.65L256.63 345.43L256.54 345.20L256.45 344.97L256.37 344.74L256.31 344.51L256.26 344.28L256.23 344.05L256.21 343.82L256.20 343.60L256.21 343.38L256.23 343.15L256.26 342.92L256.31 342.69L256.37 342.46L256.45 342.23L256.54 342.00L256.63 341.77L256.75 341.55L256.87 341.32L257.01 341.10L257.15 340.89L257.31 340.68L257.48 340.48L257.66 340.28L257.85 340.08L258.06 339.88L258.29 339.68L258.52 339.49L258.77 339.30L259.02 339.12L259.29 338.93L259.57 338.76L259.85 338.59L260.14 338.42L260.44 338.26L260.75 338.11L261.06 337.97L261.38 337.83L261.71 337.70L262.05 337.57L262.40 337.45L262.76 337.34L263.13 337.22L263.51 337.12L263.89 337.02L264.27 336.93L264.66 336.84L265.05 336.77L265.45 336.70L265.84 336.63L266.23 336.58L266.62 336.53L267.02 336.50L267.43 336.46L267.84 336.44L268.26 336.42L268.68 336.41L269.10 336.41L269.52 336.41L269.94 336.42L270.36 336.44L270.77 336.46L271.18 336.50L271.58 336.53L271.97 336.58L272.36 336.63L272.75 336.70L273.15 336.77L273.54 336.84L273.93 336.93L274.31 337.02L274.69 337.12L275.07 337.22L275.44 337.34L275.80 337.45L276.15 337.57L276.49 337.70L276.82 337.83L277.14 337.97L277.45 338.11L277.76 338.26L278.06 338.42L278.35 338.59L278.63 338.76L278.91 338.93L279.18 339.12L279.43 339.30L279.68 339.49L279.91 339.68L280.14 339.88L280.35 340.08L280.54 340.28L280.72 340.48L280.89 340.68L281.05 340.89L281.19 341.10L281.33 341.32L281.45 341.55L281.57 341.77L281.66 342.00L281.75 342.23L281.83 342.46L281.89 342.69L281.94 342.92L281.97 343.15L281.99 343.38Z" fill="#6e6e6e"/><clipPath id="cc2"><path d="M282.00 343.60L281.99 343.82L281.97 344.05L281.94 344.28L281.89 344.51L281.83 344.74L281.75 344.97L281.66 345.20L281.57 345.43L281.45 345.65L281.33 345.88L281.19 346.10L281.05 346.31L280.89 346.52L280.72 346.72L280.54 346.92L280.35 347.12L280.14 347.32L279.91 347.52L279.68 347.71L279.43 347.90L279.18 348.08L278.91 348.27L278.63 348.44L278.35 348.61L278.06 348.78L277.76 348.94L277.45 349.09L277.14 349.23L276.82 349.37L276.49 349.50L276.15 349.63L275.80 349.75L275.44 349.86L275.07 349.98L274.69 350.08L274.31 350.18L273.93 350.27L273.54 350.36L273.15 350.43L272.75 350.50L272.36 350.57L271.97 350.62L271.58 350.67L271.18 350.70L270.77 350.74L270.36 350.76L269.94 350.78L269.52 350.79L269.10 350.79L268.68 350.79L268.26 350.78L267.84 350.76L267.43 350.74L267.02 350.70L266.62 350.67L266.23 350.62L265.84 350.57L265.45 350.50L265.05 350.43L264.66 350.36L264.27 350.27L263.89 350.18L263.51 350.08L263.13 349.98L262.76 349.86L262.40 349.75L262.05 349.63L261.71 349.50L261.38 349.37L261.06 349.23L260.75 349.09L260.44 348.94L260.14 348.78L259.85 348.61L259.57 348.44L259.29 348.27L259.02 348.08L258.77 347.90L258.52 347.71L258.29 347.52L258.06 347.32L257.85 347.12L257.66 346.92L257.48 346.72L257.31 346.52L257.15 346.31L257.01 346.10L256.87 345.88L256.75 345.65L256.63 345.43L256.54 345.20L256.45 344.97L256.37 344.74L256.31 344.51L256.26 344.28L256.23 344.05L256.21 343.82L256.20 343.60L256.21 343.38L256.23 343.15L256.26 342.92L256.31 342.69L256.37 342.46L256.45 342.23L256.54 342.00L256.63 341.77L256.75 341.55L256.87 341.32L257.01 341.10L257.15 340.89L257.31 340.68L257.48 340.48L257.66 340.28L257.85 340.08L258.06 339.88L258.29 339.68L258.52 339.49L258.77 339.30L259.02 339.12L259.29 338.93L259.57 338.76L259.85 338.59L260.14 338.42L260.44 338.26L260.75 338.11L261.06 337.97L261.38 337.83L261.71 337.70L262.05 337.57L262.40 337.45L262.76 337.34L263.13 337.22L263.51 337.12L263.89 337.02L264.27 336.93L264.66 336.84L265.05 336.77L265.45 336.70L265.84 336.63L266.23 336.58L266.62 336.53L267.02 336.50L267.43 336.46L267.84 336.44L268.26 336.42L268.68 336.41L269.10 336.41L269.52 336.41L269.94 336.42L270.36 336.44L270.77 336.46L271.18 336.50L271.58 336.53L271.97 336.58L272.36 336.63L272.75 336.70L273.15 336.77L273.54 336.84L273.93 336.93L274.31 337.02L274.69 337.12L275.07 337.22L275.44 337.34L275.80 337.45L276.15 337.57L276.49 337.70L276.82 337.83L277.14 337.97L277.45 338.11L277.76 338.26L278.06 338.42L278.35 338.59L278.63 338.76L278.91 338.93L279.18 339.12L279.43 339.30L279.68 339.49L279.91 339.68L280.14 339.88L280.35 340.08L280.54 340.28L280.72 340.48L280.89 340.68L281.05 340.89L281.19 341.10L281.33 341.32L281.45 341.55L281.57 341.77L281.66 342.00L281.75 342.23L281.83 342.46L281.89 342.69L281.94 342.92L281.97 343.15L281.99 343.38Z"/></clipPath><rect x="256" y="336" width="26.5" height="15.5" filter="url(#tex)" clip-path="url(#cc2)"/><path d="M287.20 344.80L287.19 345.16L287.16 345.52L287.11 345.89L287.04 346.25L286.95 346.62L286.84 346.98L286.72 347.34L286.57 347.70L286.41 348.06L286.23 348.41L286.04 348.75L285.83 349.09L285.60 349.42L285.36 349.75L285.10 350.06L284.81 350.38L284.51 350.69L284.19 351.00L283.85 351.31L283.50 351.61L283.13 351.90L282.74 352.19L282.35 352.47L281.94 352.74L281.51 353.00L281.08 353.25L280.64 353.49L280.20 353.71L279.74 353.93L279.26 354.14L278.77 354.34L278.26 354.53L277.74 354.72L277.20 354.90L276.66 355.06L276.11 355.22L275.56 355.36L275.00 355.50L274.43 355.62L273.87 355.73L273.30 355.83L272.74 355.91L272.17 355.99L271.59 356.05L271.00 356.10L270.41 356.14L269.81 356.17L269.21 356.18L268.60 356.19L267.99 356.18L267.39 356.17L266.79 356.14L266.20 356.10L265.61 356.05L265.03 355.99L264.46 355.91L263.90 355.83L263.33 355.73L262.77 355.62L262.20 355.50L261.64 355.36L261.09 355.22L260.54 355.06L260.00 354.90L259.46 354.72L258.94 354.53L258.43 354.34L257.94 354.14L257.46 353.93L257.00 353.71L256.56 353.49L256.12 353.25L255.69 353.00L255.26 352.74L254.85 352.47L254.46 352.19L254.07 351.90L253.70 351.61L253.35 351.31L253.01 351.00L252.69 350.69L252.39 350.38L252.10 350.06L251.84 349.75L251.60 349.42L251.37 349.09L251.16 348.75L250.97 348.41L250.79 348.06L250.63 347.70L250.48 347.34L250.36 346.98L250.25 346.62L250.16 346.25L250.09 345.89L250.04 345.52L250.01 345.16L250.00 344.80L250.01 344.44L250.04 344.07L250.09 343.70L250.16 343.33L250.25 342.95L250.36 342.58L250.48 342.20L250.63 341.83L250.79 341.46L250.97 341.09L251.16 340.73L251.37 340.38L251.60 340.03L251.84 339.68L252.10 339.35L252.39 339.01L252.69 338.67L253.01 338.33L253.35 338.00L253.70 337.67L254.07 337.35L254.46 337.03L254.85 336.72L255.26 336.42L255.69 336.13L256.12 335.85L256.56 335.59L257.00 335.34L257.46 335.10L257.94 334.86L258.43 334.63L258.94 334.41L259.46 334.20L260.00 334.00L260.54 333.81L261.09 333.63L261.64 333.47L262.20 333.31L262.77 333.17L263.33 333.04L263.90 332.93L264.46 332.83L265.03 332.75L265.61 332.68L266.20 332.62L266.79 332.57L267.39 332.54L267.99 332.52L268.60 332.52L269.21 332.52L269.81 332.54L270.41 332.57L271.00 332.62L271.59 332.68L272.17 332.75L272.74 332.83L273.30 332.93L273.87 333.04L274.43 333.17L275.00 333.31L275.56 333.47L276.11 333.63L276.66 333.81L277.20 334.00L277.74 334.20L278.26 334.41L278.77 334.63L279.26 334.86L279.74 335.10L280.20 335.34L280.64 335.59L281.08 335.85L281.51 336.13L281.94 336.42L282.35 336.72L282.74 337.03L283.13 337.35L283.50 337.67L283.85 338.00L284.19 338.33L284.51 338.67L284.81 339.01L285.10 339.35L285.36 339.68L285.60 340.03L285.83 340.38L286.04 340.73L286.23 341.09L286.41 341.46L286.57 341.83L286.72 342.20L286.84 342.58L286.95 342.95L287.04 343.33L287.11 343.70L287.16 344.07L287.19 344.44Z" fill="none" stroke="#444" stroke-width="0.6"/><path d="M284.70 344.20L284.69 344.49L284.66 344.79L284.62 345.08L284.56 345.38L284.49 345.67L284.39 345.96L284.28 346.26L284.16 346.55L284.02 346.83L283.87 347.11L283.70 347.39L283.52 347.66L283.32 347.93L283.12 348.19L282.89 348.45L282.65 348.70L282.39 348.96L282.11 349.21L281.82 349.45L281.52 349.69L281.20 349.93L280.87 350.16L280.52 350.39L280.17 350.61L279.81 350.82L279.44 351.02L279.06 351.21L278.68 351.39L278.28 351.57L277.87 351.74L277.44 351.90L277.01 352.06L276.56 352.21L276.10 352.35L275.64 352.48L275.16 352.61L274.68 352.72L274.20 352.83L273.72 352.93L273.23 353.02L272.74 353.10L272.26 353.17L271.77 353.23L271.27 353.28L270.77 353.32L270.26 353.35L269.74 353.37L269.22 353.39L268.70 353.39L268.18 353.39L267.66 353.37L267.14 353.35L266.63 353.32L266.13 353.28L265.63 353.23L265.14 353.17L264.66 353.10L264.17 353.02L263.68 352.93L263.20 352.83L262.72 352.72L262.24 352.61L261.76 352.48L261.30 352.35L260.84 352.21L260.39 352.06L259.96 351.90L259.53 351.74L259.12 351.57L258.72 351.39L258.34 351.21L257.96 351.02L257.59 350.82L257.23 350.61L256.88 350.39L256.53 350.16L256.20 349.93L255.88 349.69L255.58 349.45L255.29 349.21L255.01 348.96L254.75 348.70L254.51 348.45L254.28 348.19L254.08 347.93L253.88 347.66L253.70 347.39L253.53 347.11L253.38 346.83L253.24 346.55L253.12 346.26L253.01 345.96L252.91 345.67L252.84 345.38L252.78 345.08L252.74 344.79L252.71 344.49L252.70 344.20L252.71 343.91L252.74 343.61L252.78 343.31L252.84 343.01L252.91 342.70L253.01 342.40L253.12 342.09L253.24 341.79L253.38 341.49L253.53 341.19L253.70 340.90L253.88 340.60L254.08 340.32L254.28 340.04L254.51 339.76L254.75 339.48L255.01 339.21L255.29 338.93L255.58 338.66L255.88 338.38L256.20 338.12L256.53 337.86L256.88 337.60L257.23 337.35L257.59 337.11L257.96 336.88L258.34 336.67L258.72 336.46L259.12 336.26L259.53 336.06L259.96 335.87L260.39 335.69L260.84 335.52L261.30 335.35L261.76 335.19L262.24 335.04L262.72 334.90L263.20 334.77L263.68 334.66L264.17 334.55L264.66 334.46L265.14 334.38L265.63 334.31L266.13 334.25L266.63 334.20L267.14 334.16L267.66 334.14L268.18 334.12L268.70 334.12L269.22 334.12L269.74 334.14L270.26 334.16L270.77 334.20L271.27 334.25L271.77 334.31L272.26 334.38L272.74 334.46L273.23 334.55L273.72 334.66L274.20 334.77L274.68 334.90L275.16 335.04L275.64 335.19L276.10 335.35L276.56 335.52L277.01 335.69L277.44 335.87L277.87 336.06L278.28 336.26L278.68 336.46L279.06 336.67L279.44 336.88L279.81 337.11L280.17 337.35L280.52 337.60L280.87 337.86L281.20 338.12L281.52 338.38L281.82 338.66L282.11 338.93L282.39 339.21L282.65 339.48L282.89 339.76L283.12 340.04L283.32 340.32L283.52 340.60L283.70 340.90L283.87 341.19L284.02 341.49L284.16 341.79L284.28 342.09L284.39 342.40L284.49 342.70L284.56 343.01L284.62 343.31L284.66 343.61L284.69 343.91Z" fill="none" stroke="#3a3a3a" stroke-width="0.6"/><path d="M283.20 343.90L283.19 344.16L283.17 344.42L283.13 344.68L283.08 344.94L283.01 345.20L282.93 345.45L282.83 345.71L282.72 345.97L282.59 346.22L282.46 346.47L282.31 346.71L282.14 346.95L281.97 347.19L281.78 347.41L281.58 347.64L281.37 347.86L281.13 348.09L280.89 348.31L280.63 348.52L280.35 348.74L280.07 348.95L279.77 349.15L279.47 349.35L279.15 349.54L278.83 349.72L278.50 349.90L278.16 350.07L277.82 350.23L277.46 350.39L277.09 350.54L276.72 350.68L276.32 350.82L275.92 350.95L275.52 351.07L275.10 351.19L274.68 351.30L274.25 351.41L273.82 351.50L273.38 351.59L272.95 351.67L272.52 351.74L272.08 351.80L271.65 351.85L271.20 351.89L270.75 351.93L270.29 351.96L269.83 351.98L269.37 351.99L268.90 351.99L268.43 351.99L267.97 351.98L267.51 351.96L267.05 351.93L266.60 351.89L266.15 351.85L265.72 351.80L265.28 351.74L264.85 351.67L264.42 351.59L263.98 351.50L263.55 351.41L263.12 351.30L262.70 351.19L262.28 351.07L261.88 350.95L261.48 350.82L261.08 350.68L260.71 350.54L260.34 350.39L259.98 350.23L259.64 350.07L259.30 349.90L258.97 349.72L258.65 349.54L258.33 349.35L258.03 349.15L257.73 348.95L257.45 348.74L257.17 348.52L256.91 348.31L256.67 348.09L256.43 347.86L256.22 347.64L256.02 347.41L255.83 347.19L255.66 346.95L255.49 346.71L255.34 346.47L255.21 346.22L255.08 345.97L254.97 345.71L254.87 345.45L254.79 345.20L254.72 344.94L254.67 344.68L254.63 344.42L254.61 344.16L254.60 343.90L254.61 343.64L254.63 343.38L254.67 343.11L254.72 342.85L254.79 342.58L254.87 342.31L254.97 342.04L255.08 341.77L255.21 341.50L255.34 341.24L255.49 340.98L255.66 340.72L255.83 340.46L256.02 340.22L256.22 339.97L256.43 339.72L256.67 339.47L256.91 339.23L257.17 338.98L257.45 338.74L257.73 338.50L258.03 338.27L258.33 338.04L258.65 337.82L258.97 337.61L259.30 337.40L259.64 337.20L259.98 337.02L260.34 336.84L260.71 336.66L261.08 336.49L261.48 336.33L261.88 336.17L262.28 336.02L262.70 335.88L263.12 335.75L263.55 335.62L263.98 335.51L264.42 335.40L264.85 335.30L265.28 335.22L265.72 335.15L266.15 335.09L266.60 335.03L267.05 334.99L267.51 334.96L267.97 334.93L268.43 334.92L268.90 334.91L269.37 334.92L269.83 334.93L270.29 334.96L270.75 334.99L271.20 335.03L271.65 335.09L272.08 335.15L272.52 335.22L272.95 335.30L273.38 335.40L273.82 335.51L274.25 335.62L274.68 335.75L275.10 335.88L275.52 336.02L275.92 336.17L276.32 336.33L276.72 336.49L277.09 336.66L277.46 336.84L277.82 337.02L278.16 337.20L278.50 337.40L278.83 337.61L279.15 337.82L279.47 338.04L279.77 338.27L280.07 338.50L280.35 338.74L280.63 338.98L280.89 339.23L281.13 339.47L281.37 339.72L281.58 339.97L281.78 340.22L281.97 340.46L282.14 340.72L282.31 340.98L282.46 341.24L282.59 341.50L282.72 341.77L282.83 342.04L282.93 342.31L283.01 342.58L283.08 342.85L283.13 343.11L283.17 343.38L283.19 343.64Z" fill="none" stroke="#333" stroke-width="0.6"/><path d="M282.00 343.60L281.99 343.83L281.97 344.06L281.94 344.29L281.89 344.52L281.83 344.75L281.75 344.98L281.66 345.21L281.57 345.44L281.45 345.66L281.33 345.88L281.19 346.10L281.05 346.31L280.89 346.52L280.72 346.72L280.54 346.92L280.35 347.12L280.14 347.32L279.91 347.52L279.68 347.71L279.43 347.90L279.18 348.08L278.91 348.27L278.63 348.44L278.35 348.61L278.06 348.78L277.76 348.94L277.45 349.09L277.14 349.23L276.82 349.37L276.49 349.50L276.15 349.63L275.80 349.75L275.44 349.86L275.07 349.98L274.69 350.08L274.31 350.18L273.93 350.27L273.54 350.36L273.15 350.43L272.75 350.50L272.36 350.57L271.97 350.62L271.58 350.67L271.18 350.70L270.77 350.74L270.36 350.76L269.94 350.78L269.52 350.79L269.10 350.79L268.68 350.79L268.26 350.78L267.84 350.76L267.43 350.74L267.02 350.70L266.62 350.67L266.23 350.62L265.84 350.57L265.45 350.50L265.05 350.43L264.66 350.36L264.27 350.27L263.89 350.18L263.51 350.08L263.13 349.98L262.76 349.86L262.40 349.75L262.05 349.63L261.71 349.50L261.38 349.37L261.06 349.23L260.75 349.09L260.44 348.94L260.14 348.78L259.85 348.61L259.57 348.44L259.29 348.27L259.02 348.08L258.77 347.90L258.52 347.71L258.29 347.52L258.06 347.32L257.85 347.12L257.66 346.92L257.48 346.72L257.31 346.52L257.15 346.31L257.01 346.10L256.87 345.88L256.75 345.66L256.63 345.44L256.54 345.21L256.45 344.98L256.37 344.75L256.31 344.52L256.26 344.29L256.23 344.06L256.21 343.83L256.20 343.60L256.21 343.37L256.23 343.13L256.26 342.90L256.31 342.66L256.37 342.42L256.45 342.18L256.54 341.94L256.63 341.70L256.75 341.46L256.87 341.22L257.01 340.99L257.15 340.76L257.31 340.53L257.48 340.31L257.66 340.09L257.85 339.86L258.06 339.64L258.29 339.42L258.52 339.20L258.77 338.98L259.02 338.76L259.29 338.55L259.57 338.35L259.85 338.15L260.14 337.95L260.44 337.77L260.75 337.59L261.06 337.42L261.38 337.26L261.71 337.10L262.05 336.95L262.40 336.80L262.76 336.66L263.13 336.52L263.51 336.39L263.89 336.27L264.27 336.16L264.66 336.05L265.05 335.95L265.45 335.87L265.84 335.79L266.23 335.73L266.62 335.67L267.02 335.62L267.43 335.58L267.84 335.55L268.26 335.53L268.68 335.52L269.10 335.51L269.52 335.52L269.94 335.53L270.36 335.55L270.77 335.58L271.18 335.62L271.58 335.67L271.97 335.73L272.36 335.79L272.75 335.87L273.15 335.95L273.54 336.05L273.93 336.16L274.31 336.27L274.69 336.39L275.07 336.52L275.44 336.66L275.80 336.80L276.15 336.95L276.49 337.10L276.82 337.26L277.14 337.42L277.45 337.59L277.76 337.77L278.06 337.95L278.35 338.15L278.63 338.35L278.91 338.55L279.18 338.76L279.43 338.98L279.68 339.20L279.91 339.42L280.14 339.64L280.35 339.86L280.54 340.09L280.72 340.31L280.89 340.53L281.05 340.76L281.19 340.99L281.33 341.22L281.45 341.46L281.57 341.70L281.66 341.94L281.75 342.18L281.83 342.42L281.89 342.66L281.94 342.90L281.97 343.13L281.99 343.37Z" fill="none" stroke="#2a2a2a" stroke-width="0.6"/><ellipse cx="268" cy="343.8" rx="2" ry="1.2" fill="#fff" opacity="0.9"/><line x1="296.0" y1="308.7" x2="296.0" y2="419.6" stroke="#333" stroke-width="1.35"/><line x1="230.5" y1="359.9" x2="348.3" y2="359.9" stroke="#333" stroke-width="1.35"/><rect x="230.5" y="308.7" width="117.80" height="110.90" fill="none" stroke="#000" stroke-width="1.8"/><text x="232.5" y="318.6" text-anchor="start" font-size="10.5" font-weight="bold">96.8</text><text x="344.9" y="318.9" text-anchor="end" font-size="10.5" font-weight="bold">0.4</text><text x="231.4" y="416.6" text-anchor="start" font-size="10.5" font-weight="bold">1.9</text><text x="346.7" y="416.9" text-anchor="end" font-size="10.5" font-weight="bold">1.0</text><line x1="227.9" y1="317.0" x2="230.5" y2="317.0" stroke="#333" stroke-width="0.7"/><text x="228.7" y="322.0" text-anchor="end" font-size="6.8" fill="#111" stroke="#111" stroke-width="0.22">10<tspan dy="-3" font-size="6">5</tspan></text><line x1="227.9" y1="338.0" x2="230.5" y2="338.0" stroke="#333" stroke-width="0.7"/><text x="228.7" y="343.0" text-anchor="end" font-size="6.8" fill="#111" stroke="#111" stroke-width="0.22">10<tspan dy="-3" font-size="6">4</tspan></text><line x1="227.9" y1="359.3" x2="230.5" y2="359.3" stroke="#333" stroke-width="0.7"/><text x="228.7" y="364.3" text-anchor="end" font-size="6.8" fill="#111" stroke="#111" stroke-width="0.22">10<tspan dy="-3" font-size="6">3</tspan></text><line x1="227.9" y1="388.4" x2="230.5" y2="388.4" stroke="#333" stroke-width="0.7"/><text x="228.7" y="393.4" text-anchor="end" font-size="6.8" fill="#111" stroke="#111" stroke-width="0.22">0</text><line x1="228.9" y1="331.7" x2="230.5" y2="331.7" stroke="#666" stroke-width="0.55"/><line x1="228.9" y1="328.0" x2="230.5" y2="328.0" stroke="#666" stroke-width="0.55"/><line x1="228.9" y1="325.4" x2="230.5" y2="325.4" stroke="#666" stroke-width="0.55"/><line x1="228.9" y1="323.3" x2="230.5" y2="323.3" stroke="#666" stroke-width="0.55"/><line x1="228.9" y1="321.7" x2="230.5" y2="321.7" stroke="#666" stroke-width="0.55"/><line x1="228.9" y1="352.9" x2="230.5" y2="352.9" stroke="#666" stroke-width="0.55"/><line x1="228.9" y1="349.1" x2="230.5" y2="349.1" stroke="#666" stroke-width="0.55"/><line x1="228.9" y1="346.5" x2="230.5" y2="346.5" stroke="#666" stroke-width="0.55"/><line x1="228.9" y1="344.4" x2="230.5" y2="344.4" stroke="#666" stroke-width="0.55"/><line x1="228.9" y1="342.7" x2="230.5" y2="342.7" stroke="#666" stroke-width="0.55"/><line x1="228.7" y1="379.4" x2="230.5" y2="379.4" stroke="#555" stroke-width="0.6"/><line x1="228.7" y1="383.9" x2="230.5" y2="383.9" stroke="#555" stroke-width="0.6"/><line x1="228.7" y1="392.9" x2="230.5" y2="392.9" stroke="#555" stroke-width="0.6"/><line x1="228.7" y1="397.4" x2="230.5" y2="397.4" stroke="#555" stroke-width="0.6"/><line x1="228.7" y1="412.9" x2="230.5" y2="412.9" stroke="#555" stroke-width="0.6"/><line x1="263.0" y1="419.6" x2="263.0" y2="422.20000000000005" stroke="#333" stroke-width="0.7"/><text x="263.0" y="430.8" text-anchor="middle" font-size="6.8" fill="#111" stroke="#111" stroke-width="0.22">0</text><line x1="296.0" y1="419.6" x2="296.0" y2="422.20000000000005" stroke="#333" stroke-width="0.7"/><text x="294.8" y="433.20000000000005" text-anchor="middle" font-size="6.8" fill="#111" stroke="#111" stroke-width="0.22">10<tspan dy="-3" font-size="6">3</tspan></text><line x1="319.2" y1="419.6" x2="319.2" y2="422.20000000000005" stroke="#333" stroke-width="0.7"/><text x="318.0" y="433.20000000000005" text-anchor="middle" font-size="6.8" fill="#111" stroke="#111" stroke-width="0.22">10<tspan dy="-3" font-size="6">4</tspan></text><line x1="341.0" y1="419.6" x2="341.0" y2="422.20000000000005" stroke="#333" stroke-width="0.7"/><text x="339.8" y="433.20000000000005" text-anchor="middle" font-size="6.8" fill="#111" stroke="#111" stroke-width="0.22">10<tspan dy="-3" font-size="6">5</tspan></text><line x1="303.0" y1="419.6" x2="303.0" y2="421.20000000000005" stroke="#666" stroke-width="0.55"/><line x1="307.1" y1="419.6" x2="307.1" y2="421.20000000000005" stroke="#666" stroke-width="0.55"/><line x1="310.0" y1="419.6" x2="310.0" y2="421.20000000000005" stroke="#666" stroke-width="0.55"/><line x1="312.2" y1="419.6" x2="312.2" y2="421.20000000000005" stroke="#666" stroke-width="0.55"/><line x1="314.0" y1="419.6" x2="314.0" y2="421.20000000000005" stroke="#666" stroke-width="0.55"/><line x1="325.8" y1="419.6" x2="325.8" y2="421.20000000000005" stroke="#666" stroke-width="0.55"/><line x1="329.6" y1="419.6" x2="329.6" y2="421.20000000000005" stroke="#666" stroke-width="0.55"/><line x1="332.3" y1="419.6" x2="332.3" y2="421.20000000000005" stroke="#666" stroke-width="0.55"/><line x1="334.4" y1="419.6" x2="334.4" y2="421.20000000000005" stroke="#666" stroke-width="0.55"/><line x1="336.2" y1="419.6" x2="336.2" y2="421.20000000000005" stroke="#666" stroke-width="0.55"/><line x1="239.0" y1="419.6" x2="239.0" y2="421.40000000000003" stroke="#555" stroke-width="0.6"/><line x1="245.0" y1="419.6" x2="245.0" y2="421.40000000000003" stroke="#555" stroke-width="0.6"/><line x1="254.0" y1="419.6" x2="254.0" y2="421.40000000000003" stroke="#555" stroke-width="0.6"/><line x1="258.5" y1="419.6" x2="258.5" y2="421.40000000000003" stroke="#555" stroke-width="0.6"/><line x1="267.5" y1="419.6" x2="267.5" y2="421.40000000000003" stroke="#555" stroke-width="0.6"/><line x1="272.0" y1="419.6" x2="272.0" y2="421.40000000000003" stroke="#555" stroke-width="0.6"/><line x1="281.0" y1="419.6" x2="281.0" y2="421.40000000000003" stroke="#555" stroke-width="0.6"/><path d="M392.46 337.31L392.81 336.93L393.18 336.56L393.56 336.20L393.98 335.86L394.42 335.52L394.91 335.19L395.45 334.87L396.04 334.54L396.68 334.22L397.40 333.89L398.20 333.56L399.09 333.23L400.05 332.91L401.06 332.58L402.12 332.26L403.20 331.94L404.30 331.63L405.39 331.33L406.45 331.03L407.48 330.75L408.49 330.46L409.49 330.18L410.49 329.90L411.49 329.63L412.49 329.36L413.49 329.11L414.49 328.87L415.49 328.64L416.49 328.43L417.49 328.24L418.50 328.06L419.53 327.90L420.56 327.75L421.60 327.61L422.63 327.49L423.65 327.38L424.65 327.29L425.63 327.21L426.57 327.16L427.46 327.13L428.33 327.11L429.18 327.10L430.00 327.10L430.81 327.13L431.58 327.17L432.33 327.23L433.05 327.32L433.73 327.43L434.38 327.57L435.00 327.74L435.57 327.94L436.11 328.18L436.61 328.45L437.09 328.74L437.53 329.05L437.94 329.38L438.33 329.73L438.69 330.10L439.03 330.47L439.35 330.85L439.65 331.24L439.92 331.64L440.18 332.06L440.41 332.48L440.62 332.93L440.80 333.39L440.94 333.86L441.06 334.36L441.14 334.87L441.19 335.40L441.20 335.97L441.18 336.57L441.12 337.20L441.03 337.86L440.91 338.52L440.76 339.19L440.59 339.85L440.40 340.49L440.19 341.11L439.96 341.69L439.71 342.23L439.41 342.74L439.09 343.23L438.74 343.70L438.37 344.16L438.00 344.62L437.61 345.09L437.24 345.58L436.87 346.09L436.52 346.63L436.18 347.20L435.84 347.77L435.50 348.35L435.16 348.95L434.82 349.56L434.48 350.19L434.15 350.84L433.82 351.52L433.49 352.22L433.16 352.96L432.85 353.75L432.54 354.58L432.24 355.46L431.94 356.36L431.64 357.28L431.34 358.21L431.03 359.13L430.72 360.03L430.39 360.91L430.05 361.75L429.71 362.57L429.39 363.40L429.07 364.22L428.75 365.02L428.42 365.82L428.06 366.59L427.67 367.33L427.25 368.04L426.77 368.71L426.24 369.33L425.64 369.91L425.00 370.47L424.30 370.99L423.57 371.48L422.81 371.93L422.02 372.36L421.21 372.75L420.39 373.10L419.57 373.42L418.75 373.70L417.92 373.94L417.05 374.15L416.16 374.33L415.25 374.46L414.33 374.57L413.42 374.63L412.51 374.67L411.62 374.67L410.75 374.63L409.92 374.57L409.11 374.46L408.31 374.32L407.52 374.14L406.74 373.92L405.98 373.67L405.23 373.39L404.51 373.09L403.80 372.76L403.11 372.41L402.44 372.04L401.79 371.64L401.16 371.21L400.55 370.75L399.95 370.26L399.37 369.75L398.81 369.22L398.28 368.68L397.76 368.12L397.27 367.55L396.81 366.98L396.37 366.40L395.97 365.80L395.59 365.19L395.23 364.57L394.89 363.93L394.57 363.28L394.27 362.61L393.97 361.94L393.69 361.25L393.40 360.56L393.13 359.84L392.86 359.09L392.61 358.32L392.37 357.54L392.14 356.75L391.92 355.96L391.72 355.18L391.52 354.42L391.34 353.67L391.17 352.96L391.01 352.27L390.86 351.59L390.73 350.93L390.60 350.27L390.48 349.63L390.38 349.01L390.29 348.39L390.22 347.79L390.16 347.21L390.12 346.64L390.10 346.08L390.08 345.55L390.09 345.03L390.10 344.53L390.13 344.04L390.18 343.55L390.24 343.08L390.32 342.61L390.41 342.15L390.52 341.68L390.64 341.21L390.76 340.75L390.90 340.30L391.04 339.84L391.21 339.40L391.40 338.96L391.61 338.53L391.86 338.11L392.14 337.70Z" fill="#d2d2d2"/><path d="M398.77 341.17L399.01 340.89L399.25 340.62L399.52 340.35L399.80 340.09L400.11 339.84L400.44 339.58L400.80 339.33L401.20 339.07L401.65 338.81L402.13 338.55L402.68 338.28L403.29 338.00L403.96 337.72L404.66 337.45L405.41 337.17L406.17 336.90L406.95 336.64L407.72 336.39L408.49 336.16L409.23 335.93L409.96 335.72L410.69 335.52L411.41 335.32L412.14 335.14L412.86 334.97L413.58 334.81L414.30 334.66L415.01 334.53L415.72 334.42L416.43 334.32L417.15 334.24L417.87 334.17L418.59 334.11L419.31 334.06L420.03 334.02L420.73 334.00L421.41 333.98L422.07 333.98L422.71 333.99L423.32 334.01L423.90 334.04L424.46 334.08L425.01 334.13L425.55 334.18L426.06 334.25L426.56 334.32L427.03 334.42L427.49 334.52L427.92 334.64L428.32 334.78L428.70 334.95L429.06 335.13L429.40 335.32L429.71 335.54L430.01 335.76L430.28 336.00L430.54 336.25L430.79 336.51L431.02 336.77L431.24 337.04L431.44 337.31L431.63 337.59L431.81 337.88L431.97 338.17L432.12 338.48L432.25 338.80L432.36 339.12L432.45 339.46L432.52 339.81L432.57 340.17L432.60 340.56L432.60 340.97L432.59 341.40L432.55 341.84L432.50 342.29L432.43 342.75L432.35 343.20L432.25 343.64L432.14 344.06L432.02 344.46L431.88 344.84L431.71 345.19L431.53 345.52L431.32 345.84L431.11 346.16L430.89 346.48L430.67 346.81L430.45 347.15L430.24 347.51L430.04 347.90L429.85 348.30L429.65 348.72L429.46 349.14L429.26 349.58L429.06 350.04L428.86 350.51L428.66 351.00L428.47 351.51L428.27 352.05L428.06 352.62L427.86 353.23L427.66 353.88L427.45 354.55L427.24 355.25L427.03 355.97L426.80 356.68L426.56 357.39L426.32 358.08L426.06 358.74L425.80 359.38L425.53 359.99L425.27 360.60L425.01 361.20L424.74 361.79L424.47 362.36L424.18 362.91L423.88 363.44L423.55 363.95L423.19 364.42L422.79 364.87L422.35 365.29L421.88 365.68L421.37 366.06L420.84 366.41L420.28 366.74L419.71 367.05L419.13 367.33L418.54 367.58L417.94 367.80L417.35 368.00L416.75 368.17L416.13 368.32L415.49 368.44L414.84 368.53L414.18 368.60L413.53 368.64L412.88 368.66L412.24 368.65L411.62 368.62L411.03 368.56L410.45 368.48L409.88 368.36L409.31 368.23L408.76 368.07L408.22 367.88L407.69 367.68L407.17 367.45L406.66 367.21L406.17 366.95L405.69 366.68L405.23 366.39L404.77 366.07L404.33 365.73L403.90 365.38L403.48 365.01L403.08 364.62L402.69 364.22L402.32 363.82L401.97 363.40L401.63 362.98L401.31 362.56L401.02 362.12L400.74 361.67L400.47 361.21L400.22 360.74L399.99 360.27L399.76 359.78L399.54 359.28L399.33 358.77L399.12 358.25L398.92 357.72L398.73 357.16L398.55 356.59L398.37 356.01L398.21 355.42L398.06 354.83L397.92 354.25L397.79 353.67L397.67 353.12L397.56 352.59L397.46 352.07L397.37 351.57L397.29 351.07L397.21 350.59L397.15 350.12L397.09 349.66L397.05 349.21L397.01 348.77L396.99 348.34L396.97 347.93L396.97 347.52L396.98 347.13L396.99 346.76L397.01 346.40L397.05 346.04L397.09 345.69L397.14 345.35L397.21 345.01L397.28 344.67L397.36 344.34L397.45 344.00L397.55 343.67L397.65 343.34L397.76 343.02L397.88 342.70L398.02 342.38L398.17 342.07L398.35 341.76L398.54 341.47Z" fill="#a4a4a4"/><clipPath id="ci3"><path d="M398.77 341.17L399.01 340.89L399.25 340.62L399.52 340.35L399.80 340.09L400.11 339.84L400.44 339.58L400.80 339.33L401.20 339.07L401.65 338.81L402.13 338.55L402.68 338.28L403.29 338.00L403.96 337.72L404.66 337.45L405.41 337.17L406.17 336.90L406.95 336.64L407.72 336.39L408.49 336.16L409.23 335.93L409.96 335.72L410.69 335.52L411.41 335.32L412.14 335.14L412.86 334.97L413.58 334.81L414.30 334.66L415.01 334.53L415.72 334.42L416.43 334.32L417.15 334.24L417.87 334.17L418.59 334.11L419.31 334.06L420.03 334.02L420.73 334.00L421.41 333.98L422.07 333.98L422.71 333.99L423.32 334.01L423.90 334.04L424.46 334.08L425.01 334.13L425.55 334.18L426.06 334.25L426.56 334.32L427.03 334.42L427.49 334.52L427.92 334.64L428.32 334.78L428.70 334.95L429.06 335.13L429.40 335.32L429.71 335.54L430.01 335.76L430.28 336.00L430.54 336.25L430.79 336.51L431.02 336.77L431.24 337.04L431.44 337.31L431.63 337.59L431.81 337.88L431.97 338.17L432.12 338.48L432.25 338.80L432.36 339.12L432.45 339.46L432.52 339.81L432.57 340.17L432.60 340.56L432.60 340.97L432.59 341.40L432.55 341.84L432.50 342.29L432.43 342.75L432.35 343.20L432.25 343.64L432.14 344.06L432.02 344.46L431.88 344.84L431.71 345.19L431.53 345.52L431.32 345.84L431.11 346.16L430.89 346.48L430.67 346.81L430.45 347.15L430.24 347.51L430.04 347.90L429.85 348.30L429.65 348.72L429.46 349.14L429.26 349.58L429.06 350.04L428.86 350.51L428.66 351.00L428.47 351.51L428.27 352.05L428.06 352.62L427.86 353.23L427.66 353.88L427.45 354.55L427.24 355.25L427.03 355.97L426.80 356.68L426.56 357.39L426.32 358.08L426.06 358.74L425.80 359.38L425.53 359.99L425.27 360.60L425.01 361.20L424.74 361.79L424.47 362.36L424.18 362.91L423.88 363.44L423.55 363.95L423.19 364.42L422.79 364.87L422.35 365.29L421.88 365.68L421.37 366.06L420.84 366.41L420.28 366.74L419.71 367.05L419.13 367.33L418.54 367.58L417.94 367.80L417.35 368.00L416.75 368.17L416.13 368.32L415.49 368.44L414.84 368.53L414.18 368.60L413.53 368.64L412.88 368.66L412.24 368.65L411.62 368.62L411.03 368.56L410.45 368.48L409.88 368.36L409.31 368.23L408.76 368.07L408.22 367.88L407.69 367.68L407.17 367.45L406.66 367.21L406.17 366.95L405.69 366.68L405.23 366.39L404.77 366.07L404.33 365.73L403.90 365.38L403.48 365.01L403.08 364.62L402.69 364.22L402.32 363.82L401.97 363.40L401.63 362.98L401.31 362.56L401.02 362.12L400.74 361.67L400.47 361.21L400.22 360.74L399.99 360.27L399.76 359.78L399.54 359.28L399.33 358.77L399.12 358.25L398.92 357.72L398.73 357.16L398.55 356.59L398.37 356.01L398.21 355.42L398.06 354.83L397.92 354.25L397.79 353.67L397.67 353.12L397.56 352.59L397.46 352.07L397.37 351.57L397.29 351.07L397.21 350.59L397.15 350.12L397.09 349.66L397.05 349.21L397.01 348.77L396.99 348.34L396.97 347.93L396.97 347.52L396.98 347.13L396.99 346.76L397.01 346.40L397.05 346.04L397.09 345.69L397.14 345.35L397.21 345.01L397.28 344.67L397.36 344.34L397.45 344.00L397.55 343.67L397.65 343.34L397.76 343.02L397.88 342.70L398.02 342.38L398.17 342.07L398.35 341.76L398.54 341.47Z"/></clipPath><rect x="397.0" y="334.0" width="35.6" height="34.7" filter="url(#tex)" clip-path="url(#ci3)"/><path d="M391.80 336.90L392.16 336.51L392.54 336.13L392.94 335.77L393.36 335.41L393.82 335.07L394.33 334.73L394.88 334.40L395.49 334.06L396.16 333.73L396.90 333.40L397.73 333.07L398.64 332.73L399.63 332.40L400.68 332.07L401.77 331.74L402.89 331.42L404.02 331.11L405.14 330.80L406.24 330.49L407.30 330.20L408.33 329.91L409.37 329.62L410.40 329.33L411.43 329.05L412.46 328.78L413.48 328.51L414.51 328.26L415.54 328.02L416.57 327.80L417.60 327.60L418.64 327.42L419.70 327.24L420.77 327.08L421.84 326.93L422.91 326.80L423.96 326.68L424.99 326.58L426.00 326.50L426.97 326.44L427.90 326.40L428.80 326.38L429.67 326.36L430.53 326.37L431.36 326.39L432.16 326.43L432.94 326.49L433.68 326.57L434.39 326.68L435.06 326.83L435.70 327.00L436.30 327.21L436.85 327.45L437.37 327.72L437.86 328.02L438.32 328.34L438.75 328.69L439.15 329.05L439.52 329.42L439.87 329.81L440.20 330.20L440.51 330.60L440.80 331.02L441.06 331.44L441.30 331.89L441.51 332.34L441.70 332.82L441.85 333.31L441.97 333.82L442.05 334.35L442.10 334.90L442.11 335.48L442.08 336.11L442.02 336.76L441.92 337.44L441.79 338.12L441.64 338.81L441.46 339.50L441.26 340.16L441.04 340.80L440.80 341.40L440.53 341.96L440.23 342.49L439.89 342.99L439.52 343.47L439.14 343.95L438.74 344.43L438.35 344.91L437.95 345.41L437.57 345.94L437.20 346.50L436.84 347.08L436.49 347.67L436.13 348.27L435.78 348.88L435.42 349.51L435.07 350.15L434.72 350.82L434.38 351.52L434.04 352.24L433.70 353.00L433.37 353.80L433.05 354.66L432.74 355.55L432.43 356.48L432.12 357.42L431.82 358.37L431.50 359.31L431.18 360.24L430.85 361.14L430.50 362.00L430.16 362.84L429.83 363.69L429.50 364.53L429.17 365.36L428.83 366.18L428.47 366.98L428.07 367.74L427.63 368.47L427.15 369.16L426.60 369.80L425.99 370.40L425.33 370.97L424.61 371.51L423.86 372.01L423.08 372.48L422.26 372.92L421.43 373.32L420.59 373.68L419.74 374.01L418.90 374.30L418.04 374.55L417.15 374.77L416.23 374.94L415.29 375.09L414.35 375.19L413.41 375.26L412.47 375.30L411.55 375.30L410.66 375.27L409.80 375.20L408.96 375.09L408.14 374.95L407.33 374.76L406.53 374.54L405.74 374.28L404.98 374.00L404.23 373.68L403.50 373.34L402.79 372.98L402.10 372.60L401.43 372.19L400.78 371.75L400.15 371.28L399.53 370.77L398.94 370.25L398.36 369.71L397.81 369.14L397.28 368.57L396.78 367.99L396.30 367.40L395.85 366.80L395.43 366.19L395.04 365.56L394.68 364.92L394.33 364.26L394.00 363.59L393.69 362.91L393.39 362.22L393.09 361.51L392.80 360.80L392.52 360.06L392.24 359.30L391.98 358.51L391.74 357.70L391.50 356.89L391.28 356.08L391.06 355.28L390.86 354.50L390.68 353.73L390.50 353.00L390.33 352.29L390.18 351.59L390.03 350.91L389.90 350.24L389.78 349.58L389.67 348.94L389.58 348.31L389.50 347.69L389.44 347.09L389.40 346.50L389.37 345.93L389.36 345.38L389.36 344.85L389.38 344.33L389.41 343.82L389.45 343.33L389.52 342.84L389.59 342.36L389.69 341.88L389.80 341.40L389.92 340.92L390.05 340.45L390.18 339.97L390.34 339.51L390.51 339.05L390.70 338.60L390.92 338.16L391.18 337.73L391.47 337.31Z" fill="none" stroke="#2a2a2a" stroke-width="0.55"/><path d="M393.25 337.79L393.60 337.43L393.95 337.08L394.33 336.74L394.73 336.40L395.16 336.08L395.63 335.76L396.14 335.44L396.70 335.13L397.32 334.81L398.01 334.49L398.77 334.17L399.62 333.84L400.55 333.52L401.52 333.20L402.54 332.89L403.58 332.58L404.64 332.27L405.69 331.98L406.72 331.69L407.71 331.42L408.68 331.15L409.65 330.88L410.62 330.62L411.58 330.37L412.54 330.13L413.51 329.90L414.47 329.68L415.42 329.47L416.38 329.29L417.34 329.12L418.30 328.97L419.28 328.83L420.27 328.70L421.25 328.59L422.24 328.48L423.20 328.39L424.15 328.32L425.08 328.26L425.97 328.22L426.82 328.19L427.65 328.18L428.45 328.17L429.24 328.18L430.01 328.20L430.75 328.24L431.47 328.29L432.16 328.37L432.82 328.47L433.44 328.60L434.04 328.75L434.59 328.94L435.12 329.16L435.61 329.41L436.07 329.68L436.49 329.97L436.89 330.29L437.27 330.62L437.62 330.97L437.94 331.33L438.24 331.69L438.53 332.07L438.79 332.46L439.03 332.86L439.24 333.28L439.42 333.71L439.58 334.16L439.71 334.62L439.81 335.10L439.88 335.60L439.91 336.11L439.91 336.66L439.88 337.24L439.81 337.85L439.72 338.47L439.60 339.11L439.46 339.74L439.30 340.37L439.13 340.98L438.94 341.57L438.74 342.12L438.51 342.63L438.25 343.11L437.96 343.57L437.65 344.01L437.33 344.45L437.00 344.88L436.66 345.33L436.33 345.79L436.01 346.27L435.71 346.79L435.42 347.33L435.12 347.88L434.82 348.44L434.53 349.01L434.23 349.61L433.93 350.22L433.63 350.85L433.33 351.52L433.03 352.21L432.73 352.94L432.44 353.71L432.15 354.53L431.86 355.39L431.57 356.28L431.28 357.18L430.99 358.09L430.69 358.99L430.37 359.88L430.05 360.74L429.71 361.56L429.37 362.36L429.04 363.16L428.72 363.95L428.39 364.73L428.05 365.49L427.68 366.23L427.29 366.94L426.86 367.62L426.39 368.25L425.86 368.84L425.27 369.38L424.63 369.90L423.95 370.39L423.23 370.85L422.49 371.28L421.72 371.67L420.94 372.03L420.14 372.36L419.35 372.65L418.56 372.91L417.75 373.13L416.92 373.32L416.06 373.47L415.19 373.59L414.31 373.68L413.43 373.74L412.57 373.76L411.71 373.75L410.89 373.71L410.09 373.63L409.32 373.52L408.56 373.37L407.81 373.19L407.07 372.97L406.35 372.72L405.64 372.44L404.95 372.14L404.29 371.81L403.64 371.47L403.01 371.10L402.40 370.71L401.80 370.29L401.23 369.85L400.66 369.38L400.12 368.89L399.59 368.38L399.09 367.86L398.60 367.33L398.14 366.79L397.69 366.25L397.27 365.70L396.88 365.13L396.51 364.56L396.16 363.97L395.82 363.37L395.50 362.76L395.19 362.14L394.89 361.50L394.59 360.86L394.29 360.20L394.00 359.52L393.72 358.81L393.45 358.08L393.18 357.33L392.93 356.58L392.69 355.82L392.46 355.07L392.24 354.33L392.04 353.61L391.84 352.92L391.66 352.25L391.49 351.59L391.34 350.94L391.19 350.30L391.06 349.67L390.95 349.06L390.86 348.46L390.78 347.87L390.72 347.30L390.68 346.74L390.66 346.20L390.65 345.68L390.66 345.17L390.69 344.69L390.74 344.21L390.80 343.75L390.88 343.29L390.97 342.84L391.08 342.39L391.21 341.95L391.34 341.50L391.49 341.06L391.64 340.63L391.80 340.20L391.98 339.78L392.18 339.36L392.40 338.95L392.65 338.56L392.93 338.17Z" fill="none" stroke="#2a2a2a" stroke-width="0.55"/><path d="M394.69 338.67L395.01 338.33L395.35 338.01L395.71 337.70L396.09 337.40L396.50 337.10L396.95 336.81L397.45 336.53L397.99 336.25L398.58 335.97L399.23 335.69L399.95 335.40L400.75 335.11L401.61 334.83L402.51 334.54L403.46 334.26L404.42 333.98L405.40 333.71L406.36 333.44L407.31 333.19L408.22 332.94L409.11 332.70L410.00 332.45L410.89 332.22L411.77 331.98L412.65 331.76L413.53 331.54L414.41 331.33L415.29 331.14L416.17 330.95L417.05 330.79L417.94 330.63L418.84 330.48L419.76 330.35L420.67 330.22L421.59 330.10L422.49 330.00L423.38 329.91L424.25 329.83L425.09 329.77L425.90 329.73L426.67 329.70L427.44 329.68L428.18 329.67L428.91 329.68L429.61 329.70L430.29 329.75L430.94 329.81L431.56 329.90L432.15 330.02L432.70 330.16L433.23 330.34L433.71 330.54L434.17 330.77L434.60 331.03L435.00 331.31L435.37 331.60L435.72 331.91L436.05 332.24L436.36 332.57L436.65 332.91L436.92 333.25L437.18 333.61L437.41 333.98L437.62 334.36L437.81 334.76L437.98 335.17L438.12 335.59L438.23 336.03L438.32 336.49L438.37 336.96L438.39 337.47L438.38 338.01L438.34 338.57L438.26 339.16L438.17 339.75L438.04 340.35L437.90 340.94L437.73 341.52L437.55 342.08L437.35 342.61L437.12 343.10L436.85 343.56L436.56 344.00L436.24 344.42L435.90 344.84L435.56 345.26L435.21 345.69L434.86 346.13L434.52 346.59L434.19 347.09L433.88 347.60L433.56 348.12L433.25 348.65L432.93 349.19L432.62 349.74L432.31 350.31L432.00 350.90L431.70 351.52L431.40 352.16L431.10 352.83L430.82 353.54L430.54 354.29L430.26 355.09L429.99 355.90L429.71 356.73L429.44 357.57L429.16 358.40L428.87 359.21L428.58 360.00L428.27 360.76L427.97 361.49L427.67 362.23L427.39 362.97L427.10 363.69L426.80 364.40L426.49 365.10L426.14 365.76L425.77 366.40L425.35 367.01L424.88 367.58L424.36 368.11L423.79 368.62L423.18 369.10L422.54 369.56L421.86 369.98L421.16 370.38L420.44 370.74L419.71 371.07L418.98 371.36L418.24 371.62L417.49 371.84L416.72 372.03L415.92 372.19L415.10 372.31L414.28 372.40L413.46 372.46L412.64 372.49L411.84 372.48L411.07 372.44L410.32 372.37L409.60 372.27L408.88 372.13L408.18 371.96L407.49 371.76L406.81 371.53L406.14 371.27L405.49 370.99L404.86 370.70L404.25 370.38L403.65 370.04L403.07 369.69L402.50 369.30L401.95 368.89L401.41 368.46L400.88 368.01L400.38 367.54L399.89 367.05L399.42 366.56L398.97 366.05L398.54 365.54L398.14 365.02L397.76 364.49L397.41 363.94L397.08 363.38L396.76 362.81L396.46 362.23L396.18 361.63L395.91 361.02L395.64 360.39L395.38 359.76L395.13 359.11L394.89 358.43L394.66 357.73L394.45 357.01L394.24 356.29L394.05 355.57L393.88 354.86L393.71 354.16L393.56 353.48L393.42 352.83L393.29 352.20L393.17 351.58L393.05 350.98L392.95 350.39L392.86 349.81L392.78 349.24L392.71 348.68L392.66 348.14L392.62 347.61L392.59 347.10L392.57 346.60L392.56 346.12L392.56 345.65L392.58 345.20L392.61 344.75L392.65 344.32L392.70 343.89L392.76 343.46L392.84 343.04L392.94 342.62L393.04 342.20L393.15 341.78L393.26 341.36L393.39 340.95L393.54 340.55L393.71 340.16L393.91 339.77L394.14 339.39L394.40 339.03Z" fill="none" stroke="#2a2a2a" stroke-width="0.55"/><path d="M396.30 339.66L396.61 339.36L396.94 339.07L397.29 338.80L397.65 338.53L398.04 338.26L398.45 338.00L398.90 337.74L399.39 337.48L399.93 337.22L400.51 336.95L401.16 336.67L401.87 336.39L402.64 336.10L403.46 335.82L404.31 335.53L405.18 335.25L406.06 334.97L406.94 334.70L407.81 334.43L408.64 334.18L409.46 333.93L410.28 333.69L411.10 333.45L411.91 333.22L412.73 333.00L413.55 332.79L414.37 332.59L415.18 332.41L416.00 332.24L416.82 332.09L417.65 331.95L418.49 331.82L419.33 331.71L420.18 331.61L421.02 331.52L421.85 331.45L422.67 331.39L423.46 331.34L424.22 331.32L424.95 331.30L425.65 331.30L426.33 331.31L427.00 331.33L427.65 331.36L428.28 331.41L428.88 331.47L429.46 331.55L430.01 331.65L430.54 331.77L431.04 331.92L431.51 332.08L431.95 332.28L432.37 332.49L432.76 332.72L433.13 332.97L433.48 333.24L433.81 333.52L434.11 333.81L434.41 334.10L434.68 334.41L434.94 334.72L435.19 335.04L435.42 335.37L435.62 335.71L435.81 336.07L435.97 336.44L436.10 336.83L436.21 337.23L436.29 337.65L436.34 338.09L436.36 338.55L436.34 339.05L436.30 339.57L436.23 340.11L436.14 340.66L436.02 341.22L435.88 341.77L435.72 342.30L435.54 342.82L435.35 343.30L435.13 343.76L434.89 344.18L434.62 344.58L434.33 344.98L434.03 345.36L433.72 345.74L433.41 346.13L433.10 346.54L432.81 346.96L432.53 347.41L432.26 347.88L432.00 348.36L431.73 348.85L431.47 349.34L431.22 349.86L430.96 350.39L430.71 350.94L430.46 351.51L430.21 352.12L429.97 352.75L429.73 353.42L429.49 354.14L429.26 354.90L429.02 355.67L428.79 356.47L428.54 357.26L428.29 358.06L428.02 358.83L427.75 359.59L427.46 360.31L427.18 361.01L426.90 361.71L426.62 362.40L426.34 363.08L426.04 363.74L425.73 364.38L425.39 364.99L425.02 365.58L424.61 366.13L424.16 366.64L423.66 367.12L423.11 367.57L422.52 368.00L421.91 368.39L421.27 368.76L420.60 369.10L419.93 369.41L419.25 369.69L418.56 369.93L417.88 370.15L417.19 370.33L416.47 370.49L415.74 370.62L414.99 370.71L414.24 370.79L413.49 370.83L412.74 370.84L412.01 370.83L411.31 370.80L410.62 370.74L409.96 370.65L409.31 370.53L408.66 370.38L408.02 370.20L407.40 370.00L406.78 369.78L406.18 369.54L405.59 369.27L405.02 368.99L404.47 368.70L403.92 368.38L403.39 368.03L402.88 367.66L402.37 367.27L401.88 366.85L401.41 366.42L400.95 365.98L400.52 365.52L400.10 365.05L399.70 364.58L399.33 364.10L398.98 363.60L398.66 363.09L398.35 362.57L398.06 362.04L397.79 361.49L397.52 360.93L397.27 360.36L397.02 359.79L396.78 359.20L396.55 358.59L396.32 357.96L396.10 357.30L395.90 356.64L395.70 355.97L395.52 355.30L395.34 354.64L395.18 353.98L395.02 353.35L394.88 352.74L394.74 352.16L394.61 351.58L394.49 351.01L394.38 350.46L394.28 349.91L394.19 349.38L394.12 348.85L394.05 348.34L394.00 347.85L393.97 347.36L393.94 346.89L393.93 346.43L393.94 345.99L393.96 345.57L393.99 345.15L394.03 344.75L394.10 344.35L394.18 343.96L394.27 343.57L394.38 343.18L394.50 342.80L394.63 342.42L394.77 342.04L394.92 341.68L395.09 341.32L395.28 340.97L395.50 340.62L395.73 340.29L396.00 339.97Z" fill="none" stroke="#2a2a2a" stroke-width="0.55"/><path d="M397.59 340.45L397.84 340.14L398.10 339.85L398.38 339.56L398.68 339.28L399.00 339.00L399.35 338.72L399.74 338.44L400.17 338.17L400.65 337.89L401.18 337.60L401.77 337.31L402.43 337.02L403.15 336.73L403.92 336.44L404.72 336.15L405.55 335.87L406.40 335.60L407.24 335.34L408.07 335.09L408.87 334.86L409.66 334.64L410.44 334.43L411.23 334.24L412.01 334.05L412.79 333.88L413.56 333.72L414.33 333.58L415.10 333.46L415.86 333.35L416.62 333.27L417.37 333.20L418.14 333.14L418.90 333.10L419.66 333.07L420.41 333.06L421.14 333.06L421.85 333.07L422.54 333.09L423.20 333.12L423.83 333.16L424.43 333.21L425.01 333.27L425.58 333.33L426.13 333.40L426.66 333.48L427.17 333.57L427.67 333.67L428.14 333.78L428.60 333.90L429.03 334.04L429.43 334.20L429.82 334.37L430.19 334.57L430.54 334.77L430.87 334.99L431.18 335.22L431.48 335.47L431.76 335.72L432.03 335.97L432.29 336.23L432.53 336.50L432.76 336.78L432.98 337.06L433.17 337.36L433.35 337.67L433.51 338.00L433.64 338.33L433.76 338.68L433.84 339.05L433.91 339.43L433.94 339.84L433.95 340.27L433.93 340.73L433.89 341.21L433.83 341.70L433.75 342.18L433.66 342.67L433.54 343.14L433.41 343.60L433.27 344.03L433.11 344.43L432.92 344.80L432.71 345.16L432.49 345.51L432.25 345.85L432.01 346.19L431.77 346.54L431.53 346.90L431.30 347.28L431.08 347.70L430.87 348.13L430.65 348.57L430.44 349.01L430.23 349.48L430.02 349.96L429.81 350.45L429.60 350.97L429.38 351.51L429.17 352.08L428.96 352.68L428.74 353.32L428.53 354.00L428.31 354.72L428.09 355.45L427.86 356.20L427.62 356.96L427.38 357.70L427.12 358.43L426.85 359.14L426.57 359.81L426.29 360.46L426.01 361.11L425.74 361.74L425.46 362.37L425.17 362.97L424.86 363.56L424.54 364.12L424.18 364.65L423.80 365.15L423.37 365.62L422.90 366.06L422.39 366.47L421.85 366.87L421.28 367.24L420.69 367.58L420.08 367.90L419.46 368.20L418.84 368.47L418.21 368.71L417.58 368.92L416.94 369.11L416.28 369.27L415.60 369.40L414.91 369.51L414.21 369.59L413.51 369.65L412.82 369.67L412.13 369.68L411.47 369.65L410.83 369.60L410.21 369.52L409.60 369.41L408.99 369.28L408.40 369.11L407.82 368.92L407.25 368.70L406.69 368.46L406.15 368.20L405.62 367.92L405.12 367.62L404.63 367.30L404.15 366.96L403.69 366.59L403.24 366.20L402.81 365.79L402.40 365.36L402.00 364.92L401.62 364.47L401.27 364.02L400.93 363.56L400.62 363.09L400.33 362.62L400.06 362.13L399.81 361.64L399.57 361.14L399.34 360.63L399.12 360.11L398.91 359.58L398.71 359.05L398.50 358.50L398.31 357.95L398.11 357.37L397.93 356.77L397.75 356.17L397.58 355.56L397.42 354.95L397.27 354.34L397.12 353.75L396.98 353.18L396.85 352.63L396.73 352.09L396.62 351.57L396.51 351.06L396.40 350.55L396.31 350.06L396.22 349.57L396.15 349.10L396.08 348.64L396.03 348.18L395.99 347.74L395.95 347.31L395.93 346.90L395.92 346.49L395.93 346.10L395.94 345.72L395.96 345.34L396.00 344.97L396.05 344.61L396.11 344.24L396.19 343.88L396.27 343.52L396.36 343.16L396.45 342.80L396.56 342.45L396.68 342.10L396.82 341.76L396.97 341.42L397.15 341.09L397.36 340.77Z" fill="none" stroke="#2a2a2a" stroke-width="0.55"/><path d="M399.29 341.50L399.53 341.23L399.78 340.97L400.04 340.72L400.32 340.47L400.62 340.23L400.94 339.98L401.30 339.74L401.68 339.49L402.11 339.24L402.58 338.98L403.10 338.71L403.68 338.44L404.32 338.17L404.99 337.89L405.70 337.62L406.44 337.35L407.18 337.09L407.93 336.84L408.67 336.60L409.39 336.38L410.09 336.17L410.79 335.97L411.49 335.79L412.19 335.61L412.89 335.45L413.59 335.30L414.28 335.16L414.97 335.05L415.66 334.95L416.34 334.87L417.02 334.80L417.71 334.75L418.40 334.71L419.09 334.69L419.76 334.68L420.43 334.68L421.07 334.69L421.69 334.71L422.29 334.74L422.85 334.78L423.39 334.83L423.92 334.88L424.43 334.94L424.93 335.01L425.41 335.08L425.88 335.16L426.32 335.25L426.75 335.35L427.16 335.47L427.55 335.59L427.93 335.74L428.28 335.89L428.62 336.06L428.94 336.24L429.25 336.44L429.55 336.64L429.83 336.85L430.10 337.07L430.36 337.29L430.61 337.52L430.85 337.75L431.07 337.99L431.29 338.24L431.49 338.50L431.67 338.77L431.83 339.06L431.98 339.35L432.10 339.66L432.20 339.99L432.28 340.33L432.33 340.70L432.36 341.09L432.36 341.51L432.34 341.94L432.29 342.39L432.23 342.83L432.15 343.28L432.05 343.72L431.94 344.14L431.81 344.54L431.66 344.91L431.48 345.26L431.29 345.59L431.07 345.92L430.85 346.23L430.62 346.55L430.39 346.88L430.16 347.22L429.93 347.58L429.72 347.96L429.52 348.36L429.31 348.77L429.11 349.19L428.91 349.62L428.71 350.06L428.50 350.53L428.30 351.01L428.10 351.51L427.90 352.04L427.70 352.60L427.50 353.19L427.29 353.82L427.09 354.48L426.87 355.17L426.65 355.86L426.42 356.55L426.19 357.24L425.94 357.91L425.68 358.55L425.41 359.16L425.14 359.75L424.87 360.33L424.60 360.91L424.33 361.46L424.06 362.00L423.77 362.52L423.46 363.01L423.13 363.48L422.77 363.92L422.38 364.33L421.95 364.72L421.48 365.08L421.00 365.43L420.48 365.76L419.95 366.06L419.40 366.34L418.85 366.60L418.29 366.83L417.72 367.04L417.16 367.23L416.60 367.40L416.01 367.54L415.40 367.66L414.79 367.76L414.16 367.84L413.54 367.90L412.92 367.93L412.31 367.94L411.72 367.93L411.15 367.90L410.59 367.85L410.03 367.77L409.48 367.67L408.94 367.54L408.41 367.39L407.88 367.22L407.36 367.03L406.86 366.82L406.37 366.59L405.89 366.35L405.43 366.08L404.97 365.79L404.53 365.48L404.09 365.14L403.68 364.79L403.27 364.42L402.89 364.03L402.52 363.63L402.16 363.23L401.83 362.81L401.52 362.39L401.24 361.96L400.97 361.51L400.72 361.06L400.48 360.59L400.26 360.12L400.05 359.63L399.84 359.14L399.65 358.63L399.46 358.12L399.27 357.59L399.09 357.04L398.93 356.48L398.77 355.91L398.62 355.33L398.48 354.75L398.35 354.18L398.23 353.62L398.12 353.08L398.01 352.56L397.92 352.06L397.83 351.57L397.75 351.09L397.68 350.61L397.61 350.15L397.55 349.70L397.50 349.26L397.47 348.83L397.44 348.42L397.42 348.01L397.41 347.62L397.42 347.24L397.43 346.87L397.45 346.51L397.48 346.17L397.53 345.83L397.58 345.49L397.65 345.16L397.72 344.84L397.81 344.51L397.91 344.19L398.01 343.87L398.12 343.55L398.24 343.24L398.37 342.94L398.52 342.64L398.68 342.34L398.86 342.05L399.06 341.77Z" fill="none" stroke="#2a2a2a" stroke-width="0.55"/><path d="M401.09 342.60L401.30 342.36L401.52 342.13L401.75 341.91L401.99 341.69L402.25 341.46L402.53 341.24L402.82 341.01L403.15 340.78L403.51 340.54L403.90 340.29L404.35 340.03L404.84 339.76L405.39 339.48L405.97 339.20L406.58 338.93L407.22 338.65L407.87 338.39L408.53 338.13L409.18 337.89L409.82 337.66L410.44 337.44L411.07 337.24L411.70 337.04L412.34 336.86L412.97 336.69L413.61 336.53L414.24 336.40L414.87 336.27L415.50 336.16L416.13 336.08L416.76 336.00L417.40 335.95L418.03 335.90L418.67 335.87L419.30 335.85L419.91 335.85L420.50 335.86L421.08 335.88L421.63 335.91L422.15 335.95L422.65 336.00L423.13 336.06L423.59 336.13L424.04 336.20L424.47 336.29L424.89 336.38L425.28 336.48L425.66 336.60L426.01 336.73L426.35 336.87L426.66 337.02L426.96 337.19L427.24 337.38L427.50 337.57L427.75 337.77L427.99 337.99L428.21 338.21L428.42 338.43L428.62 338.66L428.80 338.89L428.98 339.13L429.15 339.37L429.31 339.62L429.45 339.87L429.58 340.14L429.70 340.41L429.79 340.69L429.88 340.98L429.94 341.29L429.98 341.60L430.01 341.93L430.02 342.29L430.01 342.66L429.98 343.05L429.93 343.45L429.87 343.84L429.80 344.24L429.72 344.62L429.62 344.99L429.51 345.34L429.39 345.66L429.25 345.97L429.09 346.26L428.92 346.54L428.75 346.81L428.57 347.09L428.39 347.37L428.21 347.67L428.04 347.98L427.88 348.32L427.73 348.67L427.58 349.04L427.43 349.41L427.29 349.79L427.14 350.19L426.99 350.61L426.84 351.05L426.69 351.51L426.54 352.00L426.39 352.51L426.23 353.06L426.07 353.65L425.90 354.26L425.73 354.90L425.54 355.54L425.35 356.19L425.14 356.83L424.92 357.45L424.69 358.06L424.45 358.63L424.20 359.18L423.96 359.72L423.72 360.25L423.47 360.76L423.21 361.26L422.94 361.74L422.66 362.19L422.35 362.62L422.02 363.02L421.65 363.40L421.26 363.75L420.83 364.09L420.38 364.40L419.91 364.70L419.42 364.97L418.92 365.22L418.41 365.45L417.89 365.66L417.37 365.84L416.86 366.00L416.34 366.14L415.81 366.26L415.25 366.36L414.69 366.44L414.13 366.50L413.56 366.54L413.01 366.56L412.46 366.56L411.92 366.54L411.41 366.50L410.90 366.45L410.40 366.37L409.91 366.27L409.42 366.15L408.94 366.01L408.47 365.85L408.00 365.68L407.54 365.49L407.10 365.28L406.67 365.07L406.24 364.83L405.83 364.57L405.42 364.29L405.03 363.99L404.64 363.67L404.27 363.34L403.91 363.00L403.57 362.64L403.24 362.27L402.93 361.90L402.64 361.52L402.37 361.13L402.12 360.73L401.88 360.31L401.66 359.89L401.45 359.46L401.25 359.01L401.05 358.56L400.87 358.09L400.69 357.62L400.52 357.14L400.36 356.63L400.20 356.11L400.06 355.58L399.93 355.04L399.81 354.51L399.69 353.98L399.59 353.46L399.50 352.96L399.42 352.48L399.35 352.01L399.28 351.56L399.22 351.12L399.17 350.69L399.13 350.26L399.10 349.85L399.08 349.45L399.06 349.06L399.06 348.69L399.07 348.32L399.08 347.97L399.11 347.63L399.14 347.30L399.19 346.98L399.24 346.68L399.30 346.38L399.37 346.08L399.45 345.79L399.54 345.51L399.64 345.22L399.75 344.94L399.86 344.66L399.98 344.39L400.10 344.12L400.23 343.86L400.37 343.60L400.53 343.34L400.70 343.09L400.88 342.84Z" fill="none" stroke="#2a2a2a" stroke-width="0.55"/><path d="M402.27 343.33L402.44 343.09L402.61 342.86L402.79 342.63L402.99 342.41L403.21 342.19L403.44 341.97L403.71 341.74L404.00 341.52L404.32 341.29L404.68 341.05L405.08 340.80L405.54 340.54L406.04 340.28L406.57 340.02L407.14 339.76L407.73 339.51L408.34 339.27L408.94 339.04L409.55 338.82L410.14 338.62L410.72 338.43L411.30 338.26L411.88 338.09L412.46 337.94L413.04 337.81L413.62 337.69L414.20 337.58L414.77 337.49L415.34 337.42L415.90 337.37L416.47 337.33L417.04 337.30L417.60 337.29L418.16 337.29L418.72 337.31L419.25 337.34L419.77 337.38L420.26 337.43L420.73 337.49L421.18 337.56L421.60 337.64L422.00 337.73L422.38 337.83L422.75 337.93L423.10 338.04L423.43 338.16L423.75 338.29L424.04 338.43L424.32 338.58L424.58 338.74L424.82 338.91L425.04 339.09L425.25 339.27L425.44 339.47L425.63 339.67L425.81 339.87L425.97 340.08L426.13 340.29L426.28 340.49L426.43 340.70L426.57 340.91L426.71 341.12L426.84 341.33L426.97 341.55L427.09 341.77L427.20 341.99L427.30 342.22L427.39 342.46L427.47 342.70L427.54 342.95L427.60 343.22L427.65 343.51L427.68 343.81L427.70 344.12L427.71 344.44L427.70 344.77L427.69 345.10L427.66 345.41L427.62 345.72L427.57 346.02L427.50 346.29L427.41 346.55L427.31 346.80L427.19 347.04L427.07 347.28L426.94 347.52L426.81 347.76L426.67 348.02L426.54 348.30L426.42 348.61L426.30 348.92L426.18 349.25L426.06 349.59L425.94 349.94L425.82 350.30L425.69 350.69L425.57 351.09L425.44 351.51L425.31 351.96L425.18 352.43L425.04 352.93L424.90 353.48L424.75 354.04L424.60 354.63L424.43 355.23L424.25 355.82L424.06 356.41L423.86 356.98L423.65 357.54L423.44 358.06L423.21 358.57L422.99 359.07L422.77 359.55L422.55 360.02L422.32 360.48L422.08 360.92L421.82 361.34L421.55 361.74L421.26 362.11L420.93 362.47L420.58 362.80L420.20 363.12L419.80 363.42L419.37 363.70L418.93 363.96L418.48 364.20L418.01 364.42L417.54 364.62L417.07 364.79L416.60 364.94L416.13 365.07L415.63 365.18L415.13 365.26L414.62 365.33L414.10 365.37L413.59 365.40L413.08 365.40L412.58 365.39L412.09 365.35L411.63 365.30L411.17 365.23L410.73 365.14L410.28 365.04L409.85 364.91L409.42 364.77L409.00 364.61L408.59 364.44L408.18 364.25L407.79 364.05L407.41 363.84L407.04 363.62L406.67 363.37L406.31 363.11L405.96 362.83L405.63 362.54L405.30 362.23L404.99 361.91L404.69 361.59L404.40 361.25L404.13 360.91L403.88 360.56L403.64 360.20L403.43 359.83L403.22 359.46L403.03 359.07L402.85 358.67L402.69 358.27L402.53 357.85L402.38 357.43L402.24 357.00L402.11 356.56L401.98 356.10L401.87 355.62L401.76 355.14L401.67 354.66L401.58 354.18L401.51 353.70L401.45 353.24L401.39 352.79L401.34 352.36L401.30 351.95L401.27 351.55L401.24 351.16L401.22 350.78L401.20 350.42L401.18 350.06L401.17 349.71L401.16 349.37L401.16 349.04L401.16 348.71L401.17 348.40L401.17 348.10L401.18 347.81L401.20 347.53L401.22 347.25L401.24 346.98L401.27 346.71L401.30 346.44L401.34 346.17L401.39 345.90L401.44 345.63L401.49 345.37L401.55 345.10L401.62 344.84L401.69 344.58L401.78 344.32L401.88 344.07L401.99 343.82L402.12 343.57Z" fill="none" stroke="#2a2a2a" stroke-width="0.55"/><path d="M403.61 344.15L403.74 343.92L403.87 343.70L404.02 343.48L404.18 343.27L404.35 343.06L404.55 342.85L404.77 342.63L405.02 342.41L405.30 342.19L405.62 341.97L405.97 341.74L406.38 341.50L406.83 341.26L407.31 341.02L407.82 340.78L408.36 340.56L408.91 340.34L409.46 340.15L410.01 339.97L410.54 339.81L411.06 339.67L411.59 339.54L412.11 339.43L412.63 339.33L413.14 339.25L413.65 339.18L414.15 339.13L414.64 339.10L415.13 339.08L415.61 339.07L416.09 339.08L416.56 339.09L417.04 339.12L417.50 339.15L417.96 339.20L418.41 339.24L418.84 339.30L419.25 339.36L419.64 339.42L420.02 339.49L420.37 339.56L420.72 339.63L421.05 339.71L421.37 339.78L421.68 339.87L421.98 339.95L422.26 340.05L422.53 340.15L422.79 340.25L423.03 340.37L423.25 340.50L423.47 340.63L423.67 340.78L423.85 340.94L424.03 341.10L424.19 341.27L424.34 341.44L424.48 341.62L424.62 341.81L424.74 341.99L424.86 342.18L424.97 342.37L425.07 342.56L425.16 342.76L425.25 342.97L425.32 343.17L425.39 343.39L425.46 343.60L425.51 343.83L425.55 344.05L425.59 344.29L425.62 344.55L425.64 344.81L425.65 345.08L425.66 345.36L425.66 345.64L425.66 345.92L425.64 346.19L425.63 346.45L425.60 346.70L425.57 346.94L425.52 347.15L425.46 347.36L425.39 347.56L425.31 347.76L425.23 347.96L425.15 348.17L425.07 348.40L424.99 348.64L424.91 348.90L424.84 349.18L424.76 349.47L424.68 349.77L424.60 350.08L424.51 350.41L424.42 350.76L424.32 351.12L424.23 351.51L424.12 351.92L424.01 352.35L423.89 352.82L423.77 353.31L423.63 353.83L423.49 354.37L423.33 354.91L423.16 355.45L422.97 355.99L422.78 356.50L422.58 357.00L422.37 357.47L422.16 357.92L421.95 358.36L421.73 358.78L421.52 359.19L421.31 359.59L421.08 359.97L420.85 360.34L420.61 360.69L420.35 361.03L420.07 361.34L419.76 361.65L419.43 361.94L419.09 362.22L418.72 362.49L418.34 362.74L417.94 362.98L417.54 363.19L417.13 363.39L416.72 363.57L416.30 363.73L415.88 363.86L415.44 363.98L414.99 364.07L414.53 364.15L414.07 364.20L413.61 364.23L413.15 364.24L412.70 364.22L412.26 364.19L411.84 364.13L411.44 364.06L411.04 363.96L410.65 363.85L410.26 363.71L409.89 363.56L409.52 363.39L409.17 363.20L408.82 363.01L408.49 362.80L408.17 362.58L407.86 362.35L407.56 362.10L407.27 361.84L406.98 361.57L406.71 361.29L406.44 361.00L406.19 360.70L405.94 360.40L405.71 360.09L405.49 359.78L405.28 359.47L405.09 359.15L404.90 358.83L404.72 358.50L404.55 358.16L404.39 357.82L404.24 357.47L404.09 357.11L403.95 356.74L403.81 356.37L403.67 355.98L403.55 355.58L403.43 355.17L403.31 354.75L403.21 354.32L403.12 353.89L403.04 353.47L402.97 353.06L402.91 352.66L402.85 352.28L402.81 351.91L402.77 351.55L402.74 351.20L402.72 350.86L402.70 350.53L402.69 350.20L402.69 349.89L402.69 349.59L402.69 349.29L402.70 349.00L402.71 348.73L402.73 348.46L402.75 348.20L402.77 347.95L402.79 347.71L402.82 347.47L402.85 347.23L402.88 346.99L402.92 346.75L402.96 346.51L403.00 346.27L403.04 346.03L403.09 345.79L403.13 345.56L403.19 345.32L403.25 345.08L403.32 344.85L403.40 344.61L403.50 344.38Z" fill="none" stroke="#2a2a2a" stroke-width="0.55"/><ellipse cx="414" cy="346" rx="2" ry="1.6" fill="#eee" opacity="0.9"/><ellipse cx="413.7" cy="357" rx="1.6" ry="1.6" fill="#eee" opacity="0.8"/><path d="M458.70 366.70L459.05 366.80L459.44 366.96L459.85 367.15L460.27 367.38L460.70 367.65L461.13 367.95L461.55 368.28L461.96 368.63L462.35 369.01L462.70 369.40L463.03 369.81L463.35 370.23L463.66 370.67L463.95 371.14L464.23 371.64L464.50 372.17L464.75 372.73L464.98 373.34L465.20 374.00L465.40 374.70L465.58 375.46L465.74 376.28L465.88 377.15L466.00 378.06L466.11 379.01L466.20 379.98L466.29 380.97L466.36 381.98L466.43 382.99L466.50 384.00L466.56 385.03L466.61 386.09L466.65 387.18L466.68 388.28L466.71 389.40L466.72 390.52L466.73 391.62L466.73 392.71L466.72 393.77L466.70 394.80L466.68 395.80L466.65 396.78L466.62 397.74L466.58 398.69L466.54 399.63L466.48 400.55L466.41 401.45L466.32 402.35L466.22 403.23L466.10 404.10L465.97 404.97L465.84 405.85L465.71 406.73L465.56 407.60L465.40 408.44L465.21 409.26L464.99 410.05L464.74 410.79L464.44 411.48L464.10 412.10L463.70 412.67L463.25 413.21L462.75 413.70L462.21 414.16L461.65 414.57L461.07 414.93L460.47 415.25L459.87 415.52L459.28 415.74L458.70 415.90L458.12 416.01L457.52 416.06L456.90 416.06L456.28 416.01L455.66 415.92L455.04 415.78L454.42 415.59L453.83 415.37L453.25 415.10L452.70 414.80L452.17 414.46L451.63 414.07L451.11 413.65L450.60 413.18L450.10 412.67L449.62 412.12L449.17 411.52L448.75 410.89L448.35 410.21L448.00 409.50L447.68 408.73L447.38 407.90L447.12 407.02L446.88 406.10L446.66 405.14L446.48 404.15L446.32 403.14L446.18 402.13L446.08 401.11L446.00 400.10L445.95 399.08L445.94 398.02L445.95 396.94L445.99 395.85L446.06 394.75L446.15 393.65L446.26 392.56L446.39 391.48L446.54 390.42L446.70 389.40L446.88 388.40L447.09 387.42L447.32 386.46L447.57 385.51L447.84 384.57L448.13 383.64L448.43 382.72L448.74 381.81L449.07 380.90L449.40 380.00L449.75 379.09L450.14 378.15L450.55 377.20L450.97 376.26L451.41 375.34L451.84 374.44L452.26 373.59L452.67 372.79L453.05 372.05L453.40 371.40L453.72 370.83L454.01 370.32L454.28 369.87L454.54 369.48L454.78 369.13L455.02 368.82L455.26 368.54L455.50 368.28L455.74 368.04L456.00 367.80L456.26 367.57L456.51 367.36L456.76 367.17L457.01 367.00L457.26 366.86L457.52 366.75L457.79 366.67L458.08 366.64L458.38 366.64Z" fill="none" stroke="#2a2a2a" stroke-width="0.75"/><path d="M458.15 376.37L458.41 376.45L458.69 376.57L458.98 376.71L459.29 376.87L459.60 377.06L459.92 377.27L460.23 377.50L460.53 377.74L460.81 378.00L461.07 378.26L461.31 378.54L461.55 378.83L461.78 379.14L461.99 379.47L462.20 379.82L462.40 380.19L462.59 380.59L462.76 381.03L462.93 381.49L463.08 382.00L463.21 382.54L463.33 383.13L463.44 383.75L463.54 384.40L463.62 385.08L463.70 385.77L463.78 386.48L463.85 387.20L463.91 387.92L463.98 388.64L464.04 389.37L464.10 390.13L464.16 390.91L464.21 391.70L464.26 392.51L464.30 393.32L464.34 394.12L464.38 394.92L464.41 395.71L464.44 396.48L464.47 397.24L464.49 397.99L464.50 398.75L464.51 399.50L464.51 400.25L464.49 401.00L464.46 401.74L464.41 402.49L464.35 403.22L464.26 403.96L464.15 404.69L464.04 405.42L463.92 406.15L463.78 406.86L463.63 407.55L463.46 408.21L463.26 408.83L463.04 409.41L462.79 409.95L462.51 410.44L462.19 410.89L461.83 411.32L461.44 411.71L461.01 412.07L460.57 412.39L460.11 412.68L459.65 412.93L459.18 413.15L458.72 413.32L458.26 413.45L457.81 413.54L457.34 413.59L456.86 413.60L456.37 413.56L455.88 413.49L455.39 413.38L454.91 413.24L454.44 413.06L453.99 412.86L453.56 412.62L453.14 412.35L452.72 412.04L452.30 411.70L451.90 411.33L451.51 410.92L451.13 410.48L450.77 410.00L450.43 409.49L450.11 408.95L449.83 408.37L449.57 407.75L449.32 407.07L449.11 406.35L448.91 405.59L448.74 404.80L448.60 403.98L448.49 403.15L448.40 402.32L448.34 401.49L448.31 400.67L448.30 399.86L448.32 399.02L448.37 398.18L448.43 397.34L448.52 396.50L448.63 395.67L448.74 394.85L448.87 394.05L449.01 393.27L449.16 392.53L449.32 391.80L449.50 391.09L449.69 390.39L449.89 389.71L450.11 389.03L450.33 388.36L450.57 387.70L450.81 387.04L451.05 386.39L451.30 385.74L451.57 385.07L451.86 384.39L452.16 383.71L452.48 383.02L452.80 382.35L453.12 381.69L453.43 381.07L453.73 380.48L454.01 379.94L454.27 379.45L454.50 379.03L454.72 378.66L454.92 378.33L455.11 378.05L455.29 377.80L455.46 377.58L455.64 377.39L455.82 377.21L456.00 377.06L456.19 376.91L456.38 376.77L456.56 376.64L456.75 376.53L456.93 376.44L457.11 376.37L457.30 376.32L457.49 376.29L457.70 376.28L457.92 376.31Z" fill="none" stroke="#2a2a2a" stroke-width="0.75"/><path d="M457.67 384.84L457.84 384.90L458.03 384.97L458.23 385.07L458.43 385.18L458.64 385.31L458.85 385.45L459.06 385.60L459.26 385.76L459.45 385.93L459.63 386.11L459.79 386.29L459.95 386.47L460.11 386.66L460.26 386.86L460.41 387.06L460.55 387.28L460.68 387.52L460.81 387.77L460.94 388.04L461.06 388.34L461.17 388.66L461.27 389.01L461.36 389.38L461.45 389.77L461.54 390.19L461.62 390.62L461.69 391.07L461.76 391.53L461.83 391.99L461.90 392.46L461.97 392.95L462.04 393.45L462.11 393.98L462.17 394.52L462.23 395.07L462.30 395.64L462.36 396.20L462.42 396.77L462.48 397.34L462.54 397.90L462.59 398.46L462.65 399.03L462.69 399.61L462.74 400.19L462.77 400.78L462.79 401.39L462.79 401.99L462.77 402.61L462.74 403.22L462.68 403.83L462.60 404.44L462.50 405.05L462.39 405.65L462.26 406.23L462.12 406.78L461.96 407.30L461.78 407.79L461.59 408.24L461.38 408.65L461.15 409.02L460.89 409.36L460.60 409.68L460.29 409.97L459.96 410.23L459.62 410.47L459.27 410.68L458.91 410.86L458.56 411.01L458.21 411.13L457.87 411.21L457.53 411.27L457.18 411.30L456.82 411.31L456.46 411.28L456.09 411.23L455.73 411.15L455.37 411.05L455.02 410.93L454.68 410.78L454.35 410.61L454.02 410.42L453.70 410.20L453.38 409.95L453.06 409.68L452.75 409.37L452.45 409.04L452.16 408.68L451.88 408.29L451.63 407.86L451.39 407.41L451.17 406.91L450.97 406.37L450.79 405.79L450.63 405.17L450.49 404.52L450.39 403.84L450.31 403.16L450.27 402.48L450.25 401.81L450.25 401.16L450.28 400.51L450.33 399.87L450.41 399.23L450.49 398.59L450.60 397.97L450.71 397.36L450.83 396.77L450.95 396.20L451.08 395.65L451.21 395.13L451.35 394.62L451.49 394.12L451.64 393.64L451.80 393.16L451.97 392.69L452.14 392.23L452.32 391.78L452.50 391.34L452.69 390.90L452.88 390.47L453.08 390.04L453.29 389.60L453.52 389.16L453.75 388.73L453.98 388.31L454.22 387.92L454.44 387.54L454.66 387.20L454.86 386.88L455.04 386.61L455.21 386.38L455.36 386.18L455.50 386.00L455.63 385.85L455.75 385.72L455.87 385.60L455.99 385.50L456.11 385.40L456.23 385.31L456.36 385.23L456.48 385.14L456.61 385.06L456.73 384.98L456.85 384.92L456.97 384.87L457.10 384.83L457.23 384.80L457.37 384.79L457.52 384.81Z" fill="none" stroke="#2a2a2a" stroke-width="0.75"/><path d="M456.88 398.81L456.91 398.81L456.95 398.81L456.99 398.82L457.03 398.82L457.07 398.83L457.11 398.83L457.15 398.84L457.20 398.85L457.24 398.86L457.28 398.87L457.31 398.88L457.35 398.89L457.39 398.89L457.43 398.90L457.47 398.91L457.51 398.92L457.55 398.93L457.58 398.95L457.62 398.97L457.66 398.99L457.71 399.01L457.75 399.03L457.80 399.05L457.84 399.07L457.90 399.10L457.95 399.13L458.01 399.16L458.07 399.20L458.13 399.24L458.20 399.28L458.27 399.33L458.35 399.39L458.44 399.46L458.54 399.54L458.64 399.64L458.75 399.75L458.86 399.87L458.98 400.02L459.11 400.18L459.24 400.36L459.37 400.57L459.50 400.80L459.62 401.07L459.74 401.36L459.84 401.69L459.92 402.04L459.99 402.41L460.03 402.81L460.04 403.21L460.03 403.62L459.98 404.03L459.91 404.43L459.81 404.82L459.69 405.17L459.56 405.49L459.42 405.77L459.27 406.02L459.12 406.24L458.97 406.43L458.83 406.60L458.68 406.76L458.52 406.90L458.36 407.03L458.19 407.14L458.02 407.25L457.85 407.33L457.69 407.41L457.52 407.47L457.37 407.51L457.21 407.55L457.06 407.57L456.91 407.59L456.75 407.60L456.59 407.60L456.43 407.59L456.27 407.56L456.10 407.53L455.94 407.48L455.78 407.43L455.62 407.36L455.47 407.28L455.31 407.19L455.14 407.08L454.98 406.95L454.81 406.81L454.65 406.65L454.49 406.46L454.33 406.26L454.17 406.03L454.03 405.78L453.89 405.50L453.75 405.18L453.63 404.83L453.53 404.44L453.46 404.03L453.41 403.61L453.40 403.18L453.42 402.75L453.46 402.35L453.53 401.98L453.61 401.62L453.71 401.28L453.82 400.97L453.94 400.69L454.07 400.43L454.21 400.21L454.34 400.01L454.46 399.84L454.59 399.69L454.70 399.56L454.82 399.45L454.93 399.36L455.03 399.27L455.14 399.20L455.24 399.13L455.33 399.08L455.43 399.03L455.52 398.99L455.60 398.95L455.68 398.92L455.76 398.90L455.84 398.87L455.92 398.85L456.00 398.83L456.07 398.82L456.14 398.80L456.20 398.79L456.26 398.78L456.31 398.78L456.35 398.77L456.39 398.77L456.43 398.77L456.46 398.77L456.49 398.78L456.51 398.78L456.54 398.79L456.56 398.80L456.59 398.80L456.61 398.80L456.63 398.80L456.66 398.80L456.68 398.80L456.71 398.80L456.73 398.80L456.75 398.80L456.77 398.80L456.80 398.80L456.82 398.80L456.85 398.80Z" fill="none" stroke="#2a2a2a" stroke-width="0.75"/><ellipse cx="456.8" cy="403.8" rx="1.8" ry="2.4" fill="none" stroke="#444" stroke-width="0.6"/><line x1="435.5" y1="309.2" x2="435.5" y2="419.7" stroke="#111" stroke-width="1.35"/><line x1="369.6" y1="360.8" x2="486.7" y2="360.8" stroke="#111" stroke-width="1.35"/><rect x="369.6" y="309.2" width="117.10" height="110.50" fill="none" stroke="#000" stroke-width="1.8"/><text x="372.1" y="318.8" text-anchor="start" font-size="10.5" font-weight="bold">78.6</text><text x="483.1" y="319.2" text-anchor="end" font-size="10.5" font-weight="bold">1.6</text><text x="372.5" y="416.7" text-anchor="start" font-size="10.5" font-weight="bold">9.7</text><text x="485.8" y="416.9" text-anchor="end" font-size="10.5" font-weight="bold">10.1</text><line x1="367.0" y1="318.3" x2="369.6" y2="318.3" stroke="#333" stroke-width="0.7"/><text x="367.8" y="323.3" text-anchor="end" font-size="6.8" fill="#111" stroke="#111" stroke-width="0.22">10<tspan dy="-3" font-size="6">5</tspan></text><line x1="367.0" y1="339.5" x2="369.6" y2="339.5" stroke="#333" stroke-width="0.7"/><text x="367.8" y="344.5" text-anchor="end" font-size="6.8" fill="#111" stroke="#111" stroke-width="0.22">10<tspan dy="-3" font-size="6">4</tspan></text><line x1="367.0" y1="360.8" x2="369.6" y2="360.8" stroke="#333" stroke-width="0.7"/><text x="367.8" y="365.8" text-anchor="end" font-size="6.8" fill="#111" stroke="#111" stroke-width="0.22">10<tspan dy="-3" font-size="6">3</tspan></text><line x1="367.0" y1="389.8" x2="369.6" y2="389.8" stroke="#333" stroke-width="0.7"/><text x="367.8" y="394.8" text-anchor="end" font-size="6.8" fill="#111" stroke="#111" stroke-width="0.22">0</text><line x1="368.0" y1="333.1" x2="369.6" y2="333.1" stroke="#666" stroke-width="0.55"/><line x1="368.0" y1="329.4" x2="369.6" y2="329.4" stroke="#666" stroke-width="0.55"/><line x1="368.0" y1="326.7" x2="369.6" y2="326.7" stroke="#666" stroke-width="0.55"/><line x1="368.0" y1="324.7" x2="369.6" y2="324.7" stroke="#666" stroke-width="0.55"/><line x1="368.0" y1="323.0" x2="369.6" y2="323.0" stroke="#666" stroke-width="0.55"/><line x1="368.0" y1="354.4" x2="369.6" y2="354.4" stroke="#666" stroke-width="0.55"/><line x1="368.0" y1="350.6" x2="369.6" y2="350.6" stroke="#666" stroke-width="0.55"/><line x1="368.0" y1="348.0" x2="369.6" y2="348.0" stroke="#666" stroke-width="0.55"/><line x1="368.0" y1="345.9" x2="369.6" y2="345.9" stroke="#666" stroke-width="0.55"/><line x1="368.0" y1="344.2" x2="369.6" y2="344.2" stroke="#666" stroke-width="0.55"/><line x1="367.8" y1="380.8" x2="369.6" y2="380.8" stroke="#555" stroke-width="0.6"/><line x1="367.8" y1="385.3" x2="369.6" y2="385.3" stroke="#555" stroke-width="0.6"/><line x1="367.8" y1="394.3" x2="369.6" y2="394.3" stroke="#555" stroke-width="0.6"/><line x1="367.8" y1="398.8" x2="369.6" y2="398.8" stroke="#555" stroke-width="0.6"/><line x1="367.8" y1="414.3" x2="369.6" y2="414.3" stroke="#555" stroke-width="0.6"/><line x1="402.1" y1="419.7" x2="402.1" y2="422.3" stroke="#333" stroke-width="0.7"/><text x="402.1" y="430.9" text-anchor="middle" font-size="6.8" fill="#111" stroke="#111" stroke-width="0.22">0</text><line x1="435.6" y1="419.7" x2="435.6" y2="422.3" stroke="#333" stroke-width="0.7"/><text x="434.40000000000003" y="433.3" text-anchor="middle" font-size="6.8" fill="#111" stroke="#111" stroke-width="0.22">10<tspan dy="-3" font-size="6">3</tspan></text><line x1="456.7" y1="419.7" x2="456.7" y2="422.3" stroke="#333" stroke-width="0.7"/><text x="455.5" y="433.3" text-anchor="middle" font-size="6.8" fill="#111" stroke="#111" stroke-width="0.22">10<tspan dy="-3" font-size="6">4</tspan></text><line x1="478.6" y1="419.7" x2="478.6" y2="422.3" stroke="#333" stroke-width="0.7"/><text x="477.40000000000003" y="433.3" text-anchor="middle" font-size="6.8" fill="#111" stroke="#111" stroke-width="0.22">10<tspan dy="-3" font-size="6">5</tspan></text><line x1="442.0" y1="419.7" x2="442.0" y2="421.3" stroke="#666" stroke-width="0.55"/><line x1="445.7" y1="419.7" x2="445.7" y2="421.3" stroke="#666" stroke-width="0.55"/><line x1="448.3" y1="419.7" x2="448.3" y2="421.3" stroke="#666" stroke-width="0.55"/><line x1="450.3" y1="419.7" x2="450.3" y2="421.3" stroke="#666" stroke-width="0.55"/><line x1="452.0" y1="419.7" x2="452.0" y2="421.3" stroke="#666" stroke-width="0.55"/><line x1="463.3" y1="419.7" x2="463.3" y2="421.3" stroke="#666" stroke-width="0.55"/><line x1="467.1" y1="419.7" x2="467.1" y2="421.3" stroke="#666" stroke-width="0.55"/><line x1="469.9" y1="419.7" x2="469.9" y2="421.3" stroke="#666" stroke-width="0.55"/><line x1="472.0" y1="419.7" x2="472.0" y2="421.3" stroke="#666" stroke-width="0.55"/><line x1="473.7" y1="419.7" x2="473.7" y2="421.3" stroke="#666" stroke-width="0.55"/><line x1="378.1" y1="419.7" x2="378.1" y2="421.5" stroke="#555" stroke-width="0.6"/><line x1="384.1" y1="419.7" x2="384.1" y2="421.5" stroke="#555" stroke-width="0.6"/><line x1="393.1" y1="419.7" x2="393.1" y2="421.5" stroke="#555" stroke-width="0.6"/><line x1="397.6" y1="419.7" x2="397.6" y2="421.5" stroke="#555" stroke-width="0.6"/><line x1="406.6" y1="419.7" x2="406.6" y2="421.5" stroke="#555" stroke-width="0.6"/><line x1="411.1" y1="419.7" x2="411.1" y2="421.5" stroke="#555" stroke-width="0.6"/><line x1="420.1" y1="419.7" x2="420.1" y2="421.5" stroke="#555" stroke-width="0.6"/><path d="M68.3 441.5V406.4M68.3 342.9V313" stroke="#000" stroke-width="1.9"/><path d="M68.2 307.6L64.4 314.8L72.0 314.8Z"/><path d="M67.35 441.5H250M312 441.5H480" stroke="#000" stroke-width="2"/><path d="M486.4 441.5L478.9 437.9L478.9 445.1Z"/><text transform="translate(72.4 375.4) rotate(-90)" text-anchor="middle" font-size="12" font-weight="bold" textLength="45.3" lengthAdjust="spacingAndGlyphs">CD45.2</text><text x="259.5" y="448.8" font-size="13" font-weight="bold" textLength="42.5" lengthAdjust="spacingAndGlyphs">CD45.1</text></svg></body></html>
